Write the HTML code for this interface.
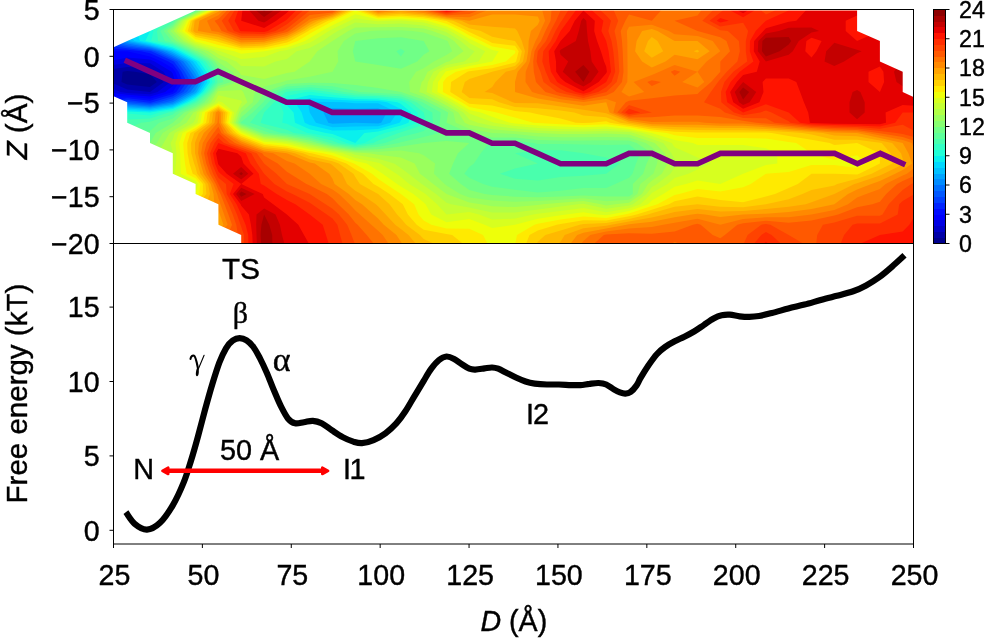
<!DOCTYPE html>
<html><head><meta charset="utf-8"><title>Free energy landscape</title>
<style>
html,body{margin:0;padding:0;background:#fff;}
body{width:986px;height:638px;overflow:hidden;font-family:"Liberation Sans",sans-serif;}
svg{display:block;will-change:transform;}
svg text{font-family:"Liberation Sans",sans-serif;fill:#000;stroke:#000;stroke-width:0.4px;}
</style></head><body>
<svg width="986" height="638" viewBox="0 0 986 638">
<rect width="986" height="638" fill="#fff"/>
<defs><clipPath id="c"><rect x="113.5" y="9.5" width="800.0" height="234.0"/></clipPath><mask id="m" maskUnits="userSpaceOnUse" x="90" y="0" width="850" height="260"><path fill="#fff" d="M195.6,10.5L218.4,10.5L241.2,10.5L264.1,10.5L286.9,10.5L309.7,10.5L332.5,10.5L355.3,10.5L378.1,10.5L400.9,10.5L423.7,10.5L446.5,10.5L469.3,10.5L492.2,10.5L515,10.5L537.8,10.5L560.6,10.5L583.4,10.5L606.2,10.5L629,10.5L651.8,10.5L674.6,10.5L697.5,10.5L720.3,10.5L743.1,10.5L765.9,10.5L788.7,10.5L811.5,10.5L834.3,10.5L857.1,10.5L857.1,20.7L857.1,30.9L879.9,41.1L879.9,51.3L879.9,61.5L902.7,71.7L902.7,81.9L902.7,92.1L925.5,102.3L925.5,112.5L925.5,122.7L925.5,132.9L925.5,143.1L925.5,153.3L925.5,163.5L925.5,173.7L925.5,183.9L925.5,194.1L925.5,204.3L925.5,214.5L925.5,224.7L925.5,234.9L925.5,245.1L902.7,245.1L879.9,245.1L857.1,245.1L834.3,245.1L811.5,245.1L788.7,245.1L765.9,245.1L743.1,245.1L720.3,245.1L697.5,245.1L674.6,245.1L651.8,245.1L629,245.1L606.2,245.1L583.4,245.1L560.6,245.1L537.8,245.1L515,245.1L492.2,245.1L469.3,245.1L446.5,245.1L423.7,245.1L400.9,245.1L378.1,245.1L355.3,245.1L332.5,245.1L309.7,245.1L286.9,245.1L264.1,245.1L241.2,245.1L241.2,234.9L218.4,224.7L218.4,214.5L218.4,204.3L195.6,194.1L195.6,183.9L172.8,173.7L172.8,163.5L172.8,153.3L150,143.1L150,132.9L127.2,122.7L127.2,112.5L127.2,102.3L104.4,92.1L104.4,81.9L104.4,71.7L104.4,61.5L104.4,51.3L127.2,41.1L150,30.9L172.8,20.7Z"/></mask></defs>
<g clip-path="url(#c)">
<g mask="url(#m)">
<rect x="90" y="0" width="850" height="260" fill="#00008d"/>
<path fill="#0000a8" d="M127.2,10.5L150,10.5L172.8,10.5L195.6,10.5L218.4,10.5L241.2,10.5L264.1,10.5L286.9,10.5L309.7,10.5L332.5,10.5L355.3,10.5L378.1,10.5L400.9,10.5L423.7,10.5L446.5,10.5L469.3,10.5L492.2,10.5L515,10.5L537.8,10.5L560.6,10.5L583.4,10.5L606.2,10.5L629,10.5L651.8,10.5L674.6,10.5L697.5,10.5L720.3,10.5L743.1,10.5L765.9,10.5L788.7,10.5L811.5,10.5L834.3,10.5L857.1,10.5L879.9,10.5L902.7,10.5L925.5,10.5L925.5,20.7L925.5,30.9L925.5,41.1L925.5,51.3L925.5,61.5L925.5,71.7L925.5,81.9L925.5,92.1L925.5,102.3L925.5,112.5L925.5,122.7L925.5,132.9L925.5,143.1L925.5,153.3L925.5,163.5L925.5,173.7L925.5,183.9L925.5,194.1L925.5,204.3L925.5,214.5L925.5,224.7L925.5,234.9L925.5,245.1L902.7,245.1L879.9,245.1L857.1,245.1L834.3,245.1L811.5,245.1L788.7,245.1L765.9,245.1L743.1,245.1L720.3,245.1L697.5,245.1L674.6,245.1L651.8,245.1L629,245.1L606.2,245.1L583.4,245.1L560.6,245.1L537.8,245.1L515,245.1L492.2,245.1L469.3,245.1L446.5,245.1L423.7,245.1L400.9,245.1L378.1,245.1L355.3,245.1L332.5,245.1L309.7,245.1L286.9,245.1L264.1,245.1L241.2,245.1L218.4,245.1L195.6,245.1L172.8,245.1L150,245.1L127.2,245.1L104.4,245.1L104.4,234.9L104.4,224.7L104.4,214.5L104.4,204.3L104.4,194.1L104.4,183.9L104.4,173.7L104.4,163.5L104.4,153.3L104.4,143.1L104.4,132.9L104.4,122.7L104.4,112.5L104.4,102.3L104.4,92.1L104.4,81.9L104.4,71.7L104.4,61.5L104.4,51.3L104.4,41.1L104.4,30.9L104.4,20.7L104.4,10.5ZM122.6,71.7L121.5,81.9L127.2,84.4L150,87L156.9,81.9L150,74.2L134.8,71.7L127.2,71Z"/>
<path fill="#0000c8" d="M127.2,10.5L150,10.5L172.8,10.5L195.6,10.5L218.4,10.5L241.2,10.5L264.1,10.5L286.9,10.5L309.7,10.5L332.5,10.5L355.3,10.5L378.1,10.5L400.9,10.5L423.7,10.5L446.5,10.5L469.3,10.5L492.2,10.5L515,10.5L537.8,10.5L560.6,10.5L583.4,10.5L606.2,10.5L629,10.5L651.8,10.5L674.6,10.5L697.5,10.5L720.3,10.5L743.1,10.5L765.9,10.5L788.7,10.5L811.5,10.5L834.3,10.5L857.1,10.5L879.9,10.5L902.7,10.5L925.5,10.5L925.5,20.7L925.5,30.9L925.5,41.1L925.5,51.3L925.5,61.5L925.5,71.7L925.5,81.9L925.5,92.1L925.5,102.3L925.5,112.5L925.5,122.7L925.5,132.9L925.5,143.1L925.5,153.3L925.5,163.5L925.5,173.7L925.5,183.9L925.5,194.1L925.5,204.3L925.5,214.5L925.5,224.7L925.5,234.9L925.5,245.1L902.7,245.1L879.9,245.1L857.1,245.1L834.3,245.1L811.5,245.1L788.7,245.1L765.9,245.1L743.1,245.1L720.3,245.1L697.5,245.1L674.6,245.1L651.8,245.1L629,245.1L606.2,245.1L583.4,245.1L560.6,245.1L537.8,245.1L515,245.1L492.2,245.1L469.3,245.1L446.5,245.1L423.7,245.1L400.9,245.1L378.1,245.1L355.3,245.1L332.5,245.1L309.7,245.1L286.9,245.1L264.1,245.1L241.2,245.1L218.4,245.1L195.6,245.1L172.8,245.1L150,245.1L127.2,245.1L104.4,245.1L104.4,234.9L104.4,224.7L104.4,214.5L104.4,204.3L104.4,194.1L104.4,183.9L104.4,173.7L104.4,163.5L104.4,153.3L104.4,143.1L104.4,132.9L104.4,122.7L104.4,112.5L104.4,102.3L104.4,92.1L104.4,81.9L104.4,75.8L110.1,81.9L127.2,89.5L150,92.1L150,92.1L150,92.1L163.7,81.9L155.4,71.7L150,68.3L127.2,66.9L104.4,70.3L104.4,61.5L104.4,51.3L104.4,41.1L104.4,30.9L104.4,20.7L104.4,10.5Z"/>
<path fill="#0000e3" d="M127.2,10.5L150,10.5L172.8,10.5L195.6,10.5L218.4,10.5L241.2,10.5L264.1,10.5L286.9,10.5L309.7,10.5L332.5,10.5L355.3,10.5L378.1,10.5L400.9,10.5L423.7,10.5L446.5,10.5L469.3,10.5L492.2,10.5L515,10.5L537.8,10.5L560.6,10.5L583.4,10.5L606.2,10.5L629,10.5L651.8,10.5L674.6,10.5L697.5,10.5L720.3,10.5L743.1,10.5L765.9,10.5L788.7,10.5L811.5,10.5L834.3,10.5L857.1,10.5L879.9,10.5L902.7,10.5L925.5,10.5L925.5,20.7L925.5,30.9L925.5,41.1L925.5,51.3L925.5,61.5L925.5,71.7L925.5,81.9L925.5,92.1L925.5,102.3L925.5,112.5L925.5,122.7L925.5,132.9L925.5,143.1L925.5,153.3L925.5,163.5L925.5,173.7L925.5,183.9L925.5,194.1L925.5,204.3L925.5,214.5L925.5,224.7L925.5,234.9L925.5,245.1L902.7,245.1L879.9,245.1L857.1,245.1L834.3,245.1L811.5,245.1L788.7,245.1L765.9,245.1L743.1,245.1L720.3,245.1L697.5,245.1L674.6,245.1L651.8,245.1L629,245.1L606.2,245.1L583.4,245.1L560.6,245.1L537.8,245.1L515,245.1L492.2,245.1L469.3,245.1L446.5,245.1L423.7,245.1L400.9,245.1L378.1,245.1L355.3,245.1L332.5,245.1L309.7,245.1L286.9,245.1L264.1,245.1L241.2,245.1L218.4,245.1L195.6,245.1L172.8,245.1L150,245.1L127.2,245.1L104.4,245.1L104.4,234.9L104.4,224.7L104.4,214.5L104.4,204.3L104.4,194.1L104.4,183.9L104.4,173.7L104.4,163.5L104.4,153.3L104.4,143.1L104.4,132.9L104.4,122.7L104.4,112.5L104.4,102.3L104.4,92.1L104.4,85L120.4,92.1L127.2,93L150,94.3L157.6,92.1L170.5,81.9L163.4,71.7L150,63.2L127.2,62.9L104.4,66.3L104.4,61.5L104.4,51.3L104.4,41.1L104.4,30.9L104.4,20.7L104.4,10.5Z"/>
<path fill="#0000ff" d="M127.2,10.5L150,10.5L172.8,10.5L195.6,10.5L218.4,10.5L241.2,10.5L264.1,10.5L286.9,10.5L309.7,10.5L332.5,10.5L355.3,10.5L378.1,10.5L400.9,10.5L423.7,10.5L446.5,10.5L469.3,10.5L492.2,10.5L515,10.5L537.8,10.5L560.6,10.5L583.4,10.5L606.2,10.5L629,10.5L651.8,10.5L674.6,10.5L697.5,10.5L720.3,10.5L743.1,10.5L765.9,10.5L788.7,10.5L811.5,10.5L834.3,10.5L857.1,10.5L879.9,10.5L902.7,10.5L925.5,10.5L925.5,20.7L925.5,30.9L925.5,41.1L925.5,51.3L925.5,61.5L925.5,71.7L925.5,81.9L925.5,92.1L925.5,102.3L925.5,112.5L925.5,122.7L925.5,132.9L925.5,143.1L925.5,153.3L925.5,163.5L925.5,173.7L925.5,183.9L925.5,194.1L925.5,204.3L925.5,214.5L925.5,224.7L925.5,234.9L925.5,245.1L902.7,245.1L879.9,245.1L857.1,245.1L834.3,245.1L811.5,245.1L788.7,245.1L765.9,245.1L743.1,245.1L720.3,245.1L697.5,245.1L674.6,245.1L651.8,245.1L629,245.1L606.2,245.1L583.4,245.1L560.6,245.1L537.8,245.1L515,245.1L492.2,245.1L469.3,245.1L446.5,245.1L423.7,245.1L400.9,245.1L378.1,245.1L355.3,245.1L332.5,245.1L309.7,245.1L286.9,245.1L264.1,245.1L241.2,245.1L218.4,245.1L195.6,245.1L172.8,245.1L150,245.1L127.2,245.1L104.4,245.1L104.4,234.9L104.4,224.7L104.4,214.5L104.4,204.3L104.4,194.1L104.4,183.9L104.4,173.7L104.4,163.5L104.4,153.3L104.4,143.1L104.4,132.9L104.4,122.7L104.4,112.5L104.4,102.3L104.4,92.1L104.4,91.1L106.7,92.1L127.2,94.7L150,96.5L165.2,92.1L172.8,86L175.4,81.9L172.8,73.7L171.5,71.7L154.6,61.5L150,59.5L127.2,57.4L109,61.5L104.4,62.2L104.4,61.5L104.4,51.3L104.4,41.1L104.4,30.9L104.4,20.7L104.4,10.5Z"/>
<path fill="#000cff" d="M127.2,10.5L150,10.5L172.8,10.5L195.6,10.5L218.4,10.5L241.2,10.5L264.1,10.5L286.9,10.5L309.7,10.5L332.5,10.5L355.3,10.5L378.1,10.5L400.9,10.5L423.7,10.5L446.5,10.5L469.3,10.5L492.2,10.5L515,10.5L537.8,10.5L560.6,10.5L583.4,10.5L606.2,10.5L629,10.5L651.8,10.5L674.6,10.5L697.5,10.5L720.3,10.5L743.1,10.5L765.9,10.5L788.7,10.5L811.5,10.5L834.3,10.5L857.1,10.5L879.9,10.5L902.7,10.5L925.5,10.5L925.5,20.7L925.5,30.9L925.5,41.1L925.5,51.3L925.5,61.5L925.5,71.7L925.5,81.9L925.5,92.1L925.5,102.3L925.5,112.5L925.5,122.7L925.5,132.9L925.5,143.1L925.5,153.3L925.5,163.5L925.5,173.7L925.5,183.9L925.5,194.1L925.5,204.3L925.5,214.5L925.5,224.7L925.5,234.9L925.5,245.1L902.7,245.1L879.9,245.1L857.1,245.1L834.3,245.1L811.5,245.1L788.7,245.1L765.9,245.1L743.1,245.1L720.3,245.1L697.5,245.1L674.6,245.1L651.8,245.1L629,245.1L606.2,245.1L583.4,245.1L560.6,245.1L537.8,245.1L515,245.1L492.2,245.1L469.3,245.1L446.5,245.1L423.7,245.1L400.9,245.1L378.1,245.1L355.3,245.1L332.5,245.1L309.7,245.1L286.9,245.1L264.1,245.1L241.2,245.1L218.4,245.1L195.6,245.1L172.8,245.1L150,245.1L127.2,245.1L104.4,245.1L104.4,234.9L104.4,224.7L104.4,214.5L104.4,204.3L104.4,194.1L104.4,183.9L104.4,173.7L104.4,163.5L104.4,153.3L104.4,143.1L104.4,132.9L104.4,122.7L104.4,112.5L104.4,102.3L104.4,96.2L127.2,96.5L150,98.7L172.8,92.1L172.8,92.1L179.2,81.9L175.4,71.7L172.8,68.3L161.4,61.5L150,56.4L127.2,51.3L127.2,51.3L104.4,51.3L104.4,41.1L104.4,30.9L104.4,20.7L104.4,10.5Z"/>
<path fill="#0024ff" d="M127.2,10.5L150,10.5L172.8,10.5L195.6,10.5L218.4,10.5L241.2,10.5L264.1,10.5L286.9,10.5L309.7,10.5L332.5,10.5L355.3,10.5L378.1,10.5L400.9,10.5L423.7,10.5L446.5,10.5L469.3,10.5L492.2,10.5L515,10.5L537.8,10.5L560.6,10.5L583.4,10.5L606.2,10.5L629,10.5L651.8,10.5L674.6,10.5L697.5,10.5L720.3,10.5L743.1,10.5L765.9,10.5L788.7,10.5L811.5,10.5L834.3,10.5L857.1,10.5L879.9,10.5L902.7,10.5L925.5,10.5L925.5,20.7L925.5,30.9L925.5,41.1L925.5,51.3L925.5,61.5L925.5,71.7L925.5,81.9L925.5,92.1L925.5,102.3L925.5,112.5L925.5,122.7L925.5,132.9L925.5,143.1L925.5,153.3L925.5,163.5L925.5,173.7L925.5,183.9L925.5,194.1L925.5,204.3L925.5,214.5L925.5,224.7L925.5,234.9L925.5,245.1L902.7,245.1L879.9,245.1L857.1,245.1L834.3,245.1L811.5,245.1L788.7,245.1L765.9,245.1L743.1,245.1L720.3,245.1L697.5,245.1L674.6,245.1L651.8,245.1L629,245.1L606.2,245.1L583.4,245.1L560.6,245.1L537.8,245.1L515,245.1L492.2,245.1L469.3,245.1L446.5,245.1L423.7,245.1L400.9,245.1L378.1,245.1L355.3,245.1L332.5,245.1L309.7,245.1L286.9,245.1L264.1,245.1L241.2,245.1L218.4,245.1L195.6,245.1L172.8,245.1L150,245.1L127.2,245.1L104.4,245.1L104.4,234.9L104.4,224.7L104.4,214.5L104.4,204.3L104.4,194.1L104.4,183.9L104.4,173.7L104.4,163.5L104.4,153.3L104.4,143.1L104.4,132.9L104.4,122.7L104.4,112.5L104.4,102.3L104.4,101.1L127.2,98.2L150,100.8L172.8,94.1L176.3,92.1L183,81.9L178.5,71.7L172.8,64.2L168.3,61.5L150,53.3L140.9,51.3L127.2,49.8L104.4,48.2L104.4,41.1L104.4,30.9L104.4,20.7L104.4,10.5Z"/>
<path fill="#0040ff" d="M127.2,10.5L150,10.5L172.8,10.5L195.6,10.5L218.4,10.5L241.2,10.5L264.1,10.5L286.9,10.5L309.7,10.5L332.5,10.5L355.3,10.5L378.1,10.5L400.9,10.5L423.7,10.5L446.5,10.5L469.3,10.5L492.2,10.5L515,10.5L537.8,10.5L560.6,10.5L583.4,10.5L606.2,10.5L629,10.5L651.8,10.5L674.6,10.5L697.5,10.5L720.3,10.5L743.1,10.5L765.9,10.5L788.7,10.5L811.5,10.5L834.3,10.5L857.1,10.5L879.9,10.5L902.7,10.5L925.5,10.5L925.5,20.7L925.5,30.9L925.5,41.1L925.5,51.3L925.5,61.5L925.5,71.7L925.5,81.9L925.5,92.1L925.5,102.3L925.5,112.5L925.5,122.7L925.5,132.9L925.5,143.1L925.5,153.3L925.5,163.5L925.5,173.7L925.5,183.9L925.5,194.1L925.5,204.3L925.5,214.5L925.5,224.7L925.5,234.9L925.5,245.1L902.7,245.1L879.9,245.1L857.1,245.1L834.3,245.1L811.5,245.1L788.7,245.1L765.9,245.1L743.1,245.1L720.3,245.1L697.5,245.1L674.6,245.1L651.8,245.1L629,245.1L606.2,245.1L583.4,245.1L560.6,245.1L537.8,245.1L515,245.1L492.2,245.1L469.3,245.1L446.5,245.1L423.7,245.1L400.9,245.1L378.1,245.1L355.3,245.1L332.5,245.1L309.7,245.1L286.9,245.1L264.1,245.1L241.2,245.1L218.4,245.1L195.6,245.1L172.8,245.1L150,245.1L127.2,245.1L104.4,245.1L104.4,234.9L104.4,224.7L104.4,214.5L104.4,204.3L104.4,194.1L104.4,183.9L104.4,173.7L104.4,163.5L104.4,153.3L104.4,143.1L104.4,132.9L104.4,122.7L104.4,112.5L104.4,103.1L112.6,102.3L127.2,100L145.4,102.3L150,102.7L152.3,102.3L172.8,96.2L179.8,92.1L186.8,81.9L181.6,71.7L173.9,61.5L172.8,60.9L151.3,51.3L150,50.9L127.2,48.2L104.4,45.2L104.4,41.1L104.4,30.9L104.4,20.7L104.4,10.5Z"/>
<path fill="#0058ff" d="M127.2,10.5L150,10.5L172.8,10.5L195.6,10.5L218.4,10.5L241.2,10.5L264.1,10.5L286.9,10.5L309.7,10.5L332.5,10.5L355.3,10.5L378.1,10.5L400.9,10.5L423.7,10.5L446.5,10.5L469.3,10.5L492.2,10.5L515,10.5L537.8,10.5L560.6,10.5L583.4,10.5L606.2,10.5L629,10.5L651.8,10.5L674.6,10.5L697.5,10.5L720.3,10.5L743.1,10.5L765.9,10.5L788.7,10.5L811.5,10.5L834.3,10.5L857.1,10.5L879.9,10.5L902.7,10.5L925.5,10.5L925.5,20.7L925.5,30.9L925.5,41.1L925.5,51.3L925.5,61.5L925.5,71.7L925.5,81.9L925.5,92.1L925.5,102.3L925.5,112.5L925.5,122.7L925.5,132.9L925.5,143.1L925.5,153.3L925.5,163.5L925.5,173.7L925.5,183.9L925.5,194.1L925.5,204.3L925.5,214.5L925.5,224.7L925.5,234.9L925.5,245.1L902.7,245.1L879.9,245.1L857.1,245.1L834.3,245.1L811.5,245.1L788.7,245.1L765.9,245.1L743.1,245.1L720.3,245.1L697.5,245.1L674.6,245.1L651.8,245.1L629,245.1L606.2,245.1L583.4,245.1L560.6,245.1L537.8,245.1L515,245.1L492.2,245.1L469.3,245.1L446.5,245.1L423.7,245.1L400.9,245.1L378.1,245.1L355.3,245.1L332.5,245.1L309.7,245.1L286.9,245.1L264.1,245.1L241.2,245.1L218.4,245.1L195.6,245.1L172.8,245.1L150,245.1L127.2,245.1L104.4,245.1L104.4,234.9L104.4,224.7L104.4,214.5L104.4,204.3L104.4,194.1L104.4,183.9L104.4,173.7L104.4,163.5L104.4,153.3L104.4,143.1L104.4,132.9L104.4,122.7L104.4,112.5L104.4,104.2L123.6,102.3L127.2,101.7L131.8,102.3L150,103.9L159.1,102.3L172.8,98.2L183.3,92.1L190.6,81.9L184.7,71.7L177.1,61.5L172.8,59.2L155.2,51.3L150,49.8L127.2,46.7L104.4,42.1L104.4,41.1L104.4,30.9L104.4,20.7L104.4,10.5Z"/>
<path fill="#0070ff" d="M127.2,10.5L150,10.5L172.8,10.5L195.6,10.5L218.4,10.5L241.2,10.5L264.1,10.5L286.9,10.5L309.7,10.5L332.5,10.5L355.3,10.5L378.1,10.5L400.9,10.5L423.7,10.5L446.5,10.5L469.3,10.5L492.2,10.5L515,10.5L537.8,10.5L560.6,10.5L583.4,10.5L606.2,10.5L629,10.5L651.8,10.5L674.6,10.5L697.5,10.5L720.3,10.5L743.1,10.5L765.9,10.5L788.7,10.5L811.5,10.5L834.3,10.5L857.1,10.5L879.9,10.5L902.7,10.5L925.5,10.5L925.5,20.7L925.5,30.9L925.5,41.1L925.5,51.3L925.5,61.5L925.5,71.7L925.5,81.9L925.5,92.1L925.5,102.3L925.5,112.5L925.5,122.7L925.5,132.9L925.5,143.1L925.5,153.3L925.5,163.5L925.5,173.7L925.5,183.9L925.5,194.1L925.5,204.3L925.5,214.5L925.5,224.7L925.5,234.9L925.5,245.1L902.7,245.1L879.9,245.1L857.1,245.1L834.3,245.1L811.5,245.1L788.7,245.1L765.9,245.1L743.1,245.1L720.3,245.1L697.5,245.1L674.6,245.1L651.8,245.1L629,245.1L606.2,245.1L583.4,245.1L560.6,245.1L537.8,245.1L515,245.1L492.2,245.1L469.3,245.1L446.5,245.1L423.7,245.1L400.9,245.1L378.1,245.1L355.3,245.1L332.5,245.1L309.7,245.1L286.9,245.1L264.1,245.1L241.2,245.1L218.4,245.1L195.6,245.1L172.8,245.1L150,245.1L127.2,245.1L104.4,245.1L104.4,234.9L104.4,224.7L104.4,214.5L104.4,204.3L104.4,194.1L104.4,183.9L104.4,173.7L104.4,163.5L104.4,153.3L104.4,143.1L104.4,132.9L104.4,122.7L104.4,112.5L104.4,105.2L127.2,103.2L150,105.2L166,102.3L172.8,100.3L186.9,92.1L194.4,81.9L187.9,71.7L180.2,61.5L172.8,57.4L159.1,51.3L150,48.7L127.2,45.2L109,41.1L104.4,38.4L104.4,30.9L104.4,20.7L104.4,10.5Z"/>
<path fill="#008cff" d="M127.2,10.5L150,10.5L172.8,10.5L195.6,10.5L218.4,10.5L241.2,10.5L264.1,10.5L286.9,10.5L309.7,10.5L332.5,10.5L355.3,10.5L378.1,10.5L400.9,10.5L423.7,10.5L446.5,10.5L469.3,10.5L492.2,10.5L515,10.5L537.8,10.5L560.6,10.5L583.4,10.5L606.2,10.5L629,10.5L651.8,10.5L674.6,10.5L697.5,10.5L720.3,10.5L743.1,10.5L765.9,10.5L788.7,10.5L811.5,10.5L834.3,10.5L857.1,10.5L879.9,10.5L902.7,10.5L925.5,10.5L925.5,20.7L925.5,30.9L925.5,41.1L925.5,51.3L925.5,61.5L925.5,71.7L925.5,81.9L925.5,92.1L925.5,102.3L925.5,112.5L925.5,122.7L925.5,132.9L925.5,143.1L925.5,153.3L925.5,163.5L925.5,173.7L925.5,183.9L925.5,194.1L925.5,204.3L925.5,214.5L925.5,224.7L925.5,234.9L925.5,245.1L902.7,245.1L879.9,245.1L857.1,245.1L834.3,245.1L811.5,245.1L788.7,245.1L765.9,245.1L743.1,245.1L720.3,245.1L697.5,245.1L674.6,245.1L651.8,245.1L629,245.1L606.2,245.1L583.4,245.1L560.6,245.1L537.8,245.1L515,245.1L492.2,245.1L469.3,245.1L446.5,245.1L423.7,245.1L400.9,245.1L378.1,245.1L355.3,245.1L332.5,245.1L309.7,245.1L286.9,245.1L264.1,245.1L241.2,245.1L218.4,245.1L195.6,245.1L172.8,245.1L150,245.1L127.2,245.1L104.4,245.1L104.4,234.9L104.4,224.7L104.4,214.5L104.4,204.3L104.4,194.1L104.4,183.9L104.4,173.7L104.4,163.5L104.4,153.3L104.4,143.1L104.4,132.9L104.4,122.7L104.4,112.5L104.4,106.3L127.2,104.6L150,106.4L172.8,102.3L172.8,102.3L190.4,92.1L195.6,85L197.3,81.9L195.6,78.8L191,71.7L183.4,61.5L172.8,55.7L163,51.3L150,47.6L127.2,43.6L115.8,41.1L104.4,34.3L104.4,30.9L104.4,20.7L104.4,10.5Z"/>
<path fill="#00a4ff" d="M127.2,10.5L150,10.5L172.8,10.5L195.6,10.5L218.4,10.5L241.2,10.5L264.1,10.5L286.9,10.5L309.7,10.5L332.5,10.5L355.3,10.5L378.1,10.5L400.9,10.5L423.7,10.5L446.5,10.5L469.3,10.5L492.2,10.5L515,10.5L537.8,10.5L560.6,10.5L583.4,10.5L606.2,10.5L629,10.5L651.8,10.5L674.6,10.5L697.5,10.5L720.3,10.5L743.1,10.5L765.9,10.5L788.7,10.5L811.5,10.5L834.3,10.5L857.1,10.5L879.9,10.5L902.7,10.5L925.5,10.5L925.5,20.7L925.5,30.9L925.5,41.1L925.5,51.3L925.5,61.5L925.5,71.7L925.5,81.9L925.5,92.1L925.5,102.3L925.5,112.5L925.5,122.7L925.5,132.9L925.5,143.1L925.5,153.3L925.5,163.5L925.5,173.7L925.5,183.9L925.5,194.1L925.5,204.3L925.5,214.5L925.5,224.7L925.5,234.9L925.5,245.1L902.7,245.1L879.9,245.1L857.1,245.1L834.3,245.1L811.5,245.1L788.7,245.1L765.9,245.1L743.1,245.1L720.3,245.1L697.5,245.1L674.6,245.1L651.8,245.1L629,245.1L606.2,245.1L583.4,245.1L560.6,245.1L537.8,245.1L515,245.1L492.2,245.1L469.3,245.1L446.5,245.1L423.7,245.1L400.9,245.1L378.1,245.1L355.3,245.1L332.5,245.1L309.7,245.1L286.9,245.1L264.1,245.1L241.2,245.1L218.4,245.1L195.6,245.1L172.8,245.1L150,245.1L127.2,245.1L104.4,245.1L104.4,234.9L104.4,224.7L104.4,214.5L104.4,204.3L104.4,194.1L104.4,183.9L104.4,173.7L104.4,163.5L104.4,153.3L104.4,143.1L104.4,132.9L104.4,122.7L104.4,112.5L104.4,107.4L127.2,105.9L150,107.6L172.8,103.7L175.9,102.3L193.9,92.1L195.6,89.7L199.9,81.9L195.6,74.1L194.1,71.7L186.6,61.5L172.8,53.9L167,51.3L150,46.5L127.2,42.1L122.6,41.1L105.9,30.9L104.4,30L104.4,20.7L104.4,10.5Z"/>
<path fill="#00c0ff" d="M127.2,10.5L150,10.5L172.8,10.5L195.6,10.5L218.4,10.5L241.2,10.5L264.1,10.5L286.9,10.5L309.7,10.5L332.5,10.5L355.3,10.5L378.1,10.5L400.9,10.5L423.7,10.5L446.5,10.5L469.3,10.5L492.2,10.5L515,10.5L537.8,10.5L560.6,10.5L583.4,10.5L606.2,10.5L629,10.5L651.8,10.5L674.6,10.5L697.5,10.5L720.3,10.5L743.1,10.5L765.9,10.5L788.7,10.5L811.5,10.5L834.3,10.5L857.1,10.5L879.9,10.5L902.7,10.5L925.5,10.5L925.5,20.7L925.5,30.9L925.5,41.1L925.5,51.3L925.5,61.5L925.5,71.7L925.5,81.9L925.5,92.1L925.5,102.3L925.5,112.5L925.5,122.7L925.5,132.9L925.5,143.1L925.5,153.3L925.5,163.5L925.5,173.7L925.5,183.9L925.5,194.1L925.5,204.3L925.5,214.5L925.5,224.7L925.5,234.9L925.5,245.1L902.7,245.1L879.9,245.1L857.1,245.1L834.3,245.1L811.5,245.1L788.7,245.1L765.9,245.1L743.1,245.1L720.3,245.1L697.5,245.1L674.6,245.1L651.8,245.1L629,245.1L606.2,245.1L583.4,245.1L560.6,245.1L537.8,245.1L515,245.1L492.2,245.1L469.3,245.1L446.5,245.1L423.7,245.1L400.9,245.1L378.1,245.1L355.3,245.1L332.5,245.1L309.7,245.1L286.9,245.1L264.1,245.1L241.2,245.1L218.4,245.1L195.6,245.1L172.8,245.1L150,245.1L127.2,245.1L104.4,245.1L104.4,234.9L104.4,224.7L104.4,214.5L104.4,204.3L104.4,194.1L104.4,183.9L104.4,173.7L104.4,163.5L104.4,153.3L104.4,143.1L104.4,132.9L104.4,122.7L104.4,112.5L104.4,108.4L127.2,107.3L150,108.8L172.8,105L178.9,102.3L195.6,92.9L196.7,92.1L202.4,81.9L197.2,71.7L195.6,69.5L189.8,61.5L172.8,52.2L170.9,51.3L150,45.4L129,41.1L127.2,39.1L115,30.9L104.4,24.9L104.4,20.7L104.4,10.5ZM323.4,112.5L328.3,122.7L332.5,123.8L355.3,122.7L355.3,122.7L355.3,122.7L378.1,123.6L381.2,122.7L386.9,112.5L378.1,108.2L355.3,108.8L332.5,108Z"/>
<path fill="#00d8ff" d="M127.2,10.5L150,10.5L172.8,10.5L195.6,10.5L218.4,10.5L241.2,10.5L264.1,10.5L286.9,10.5L309.7,10.5L332.5,10.5L355.3,10.5L378.1,10.5L400.9,10.5L423.7,10.5L446.5,10.5L469.3,10.5L492.2,10.5L515,10.5L537.8,10.5L560.6,10.5L583.4,10.5L606.2,10.5L629,10.5L651.8,10.5L674.6,10.5L697.5,10.5L720.3,10.5L743.1,10.5L765.9,10.5L788.7,10.5L811.5,10.5L834.3,10.5L857.1,10.5L879.9,10.5L902.7,10.5L925.5,10.5L925.5,20.7L925.5,30.9L925.5,41.1L925.5,51.3L925.5,61.5L925.5,71.7L925.5,81.9L925.5,92.1L925.5,102.3L925.5,112.5L925.5,122.7L925.5,132.9L925.5,143.1L925.5,153.3L925.5,163.5L925.5,173.7L925.5,183.9L925.5,194.1L925.5,204.3L925.5,214.5L925.5,224.7L925.5,234.9L925.5,245.1L902.7,245.1L879.9,245.1L857.1,245.1L834.3,245.1L811.5,245.1L788.7,245.1L765.9,245.1L743.1,245.1L720.3,245.1L697.5,245.1L674.6,245.1L651.8,245.1L629,245.1L606.2,245.1L583.4,245.1L560.6,245.1L537.8,245.1L515,245.1L492.2,245.1L469.3,245.1L446.5,245.1L423.7,245.1L400.9,245.1L378.1,245.1L355.3,245.1L332.5,245.1L309.7,245.1L286.9,245.1L264.1,245.1L241.2,245.1L218.4,245.1L195.6,245.1L172.8,245.1L150,245.1L127.2,245.1L104.4,245.1L104.4,234.9L104.4,224.7L104.4,214.5L104.4,204.3L104.4,194.1L104.4,183.9L104.4,173.7L104.4,163.5L104.4,153.3L104.4,143.1L104.4,132.9L104.4,122.7L104.4,112.5L104.4,109.5L127.2,108.6L150,110.1L172.8,106.4L181.9,102.3L195.6,94.6L198.7,92.1L204.9,81.9L200.3,71.7L195.6,65.1L193,61.5L174.4,51.3L172.8,50.5L150,44.3L134.5,41.1L127.2,32.9L124.2,30.9L106.6,20.7L104.4,19.5L104.4,10.5ZM307.6,102.3L309.7,112.5L309.7,112.5L315.9,122.7L332.5,127.2L355.3,126.5L378.1,126.2L390.3,122.7L397.4,112.5L378.1,103.2L355.3,103.2L343.9,102.3L332.5,101.9L309.7,101.7Z"/>
<path fill="#09f0ee" d="M127.2,10.5L150,10.5L172.8,10.5L195.6,10.5L218.4,10.5L241.2,10.5L264.1,10.5L286.9,10.5L309.7,10.5L332.5,10.5L355.3,10.5L378.1,10.5L400.9,10.5L423.7,10.5L446.5,10.5L469.3,10.5L492.2,10.5L515,10.5L537.8,10.5L560.6,10.5L583.4,10.5L606.2,10.5L629,10.5L651.8,10.5L674.6,10.5L697.5,10.5L720.3,10.5L743.1,10.5L765.9,10.5L788.7,10.5L811.5,10.5L834.3,10.5L857.1,10.5L879.9,10.5L902.7,10.5L925.5,10.5L925.5,20.7L925.5,30.9L925.5,41.1L925.5,51.3L925.5,61.5L925.5,71.7L925.5,81.9L925.5,92.1L925.5,102.3L925.5,112.5L925.5,122.7L925.5,132.9L925.5,143.1L925.5,153.3L925.5,163.5L925.5,173.7L925.5,183.9L925.5,194.1L925.5,204.3L925.5,214.5L925.5,224.7L925.5,234.9L925.5,245.1L902.7,245.1L879.9,245.1L857.1,245.1L834.3,245.1L811.5,245.1L788.7,245.1L765.9,245.1L743.1,245.1L720.3,245.1L697.5,245.1L674.6,245.1L651.8,245.1L629,245.1L606.2,245.1L583.4,245.1L560.6,245.1L537.8,245.1L515,245.1L492.2,245.1L469.3,245.1L446.5,245.1L423.7,245.1L400.9,245.1L378.1,245.1L355.3,245.1L332.5,245.1L309.7,245.1L286.9,245.1L264.1,245.1L241.2,245.1L218.4,245.1L195.6,245.1L172.8,245.1L150,245.1L127.2,245.1L104.4,245.1L104.4,234.9L104.4,224.7L104.4,214.5L104.4,204.3L104.4,194.1L104.4,183.9L104.4,173.7L104.4,163.5L104.4,153.3L104.4,143.1L104.4,132.9L104.4,122.7L104.4,112.5L104.4,110.5L127.2,110L150,111.3L172.8,107.7L185,102.3L195.6,96.3L200.8,92.1L207.5,81.9L203.4,71.7L196.1,61.5L195.6,61.2L177.6,51.3L172.8,49L150,43.1L140,41.1L136.3,30.9L127.2,26.2L118.1,20.7L104.4,12.9L104.4,10.5ZM295.2,102.3L301.6,112.5L304.8,122.7L309.7,124.9L332.5,130.6L355.3,130.3L378.1,128.9L399.4,122.7L400.9,120.7L405.1,112.5L400.9,109.1L386.9,102.3L378.1,101L355.3,100.8L332.5,99.6L309.7,98.3Z"/>
<path fill="#1fffd7" d="M127.2,10.5L150,10.5L172.8,10.5L195.6,10.5L218.4,10.5L241.2,10.5L264.1,10.5L286.9,10.5L309.7,10.5L332.5,10.5L355.3,10.5L378.1,10.5L400.9,10.5L423.7,10.5L446.5,10.5L469.3,10.5L492.2,10.5L515,10.5L537.8,10.5L560.6,10.5L583.4,10.5L606.2,10.5L629,10.5L651.8,10.5L674.6,10.5L697.5,10.5L720.3,10.5L743.1,10.5L765.9,10.5L788.7,10.5L811.5,10.5L834.3,10.5L857.1,10.5L879.9,10.5L902.7,10.5L925.5,10.5L925.5,20.7L925.5,30.9L925.5,41.1L925.5,51.3L925.5,61.5L925.5,71.7L925.5,81.9L925.5,92.1L925.5,102.3L925.5,112.5L925.5,122.7L925.5,132.9L925.5,143.1L925.5,153.3L925.5,163.5L925.5,173.7L925.5,183.9L925.5,194.1L925.5,204.3L925.5,214.5L925.5,224.7L925.5,234.9L925.5,245.1L902.7,245.1L879.9,245.1L857.1,245.1L834.3,245.1L811.5,245.1L788.7,245.1L765.9,245.1L743.1,245.1L720.3,245.1L697.5,245.1L674.6,245.1L651.8,245.1L629,245.1L606.2,245.1L583.4,245.1L560.6,245.1L537.8,245.1L515,245.1L492.2,245.1L469.3,245.1L446.5,245.1L423.7,245.1L400.9,245.1L378.1,245.1L355.3,245.1L332.5,245.1L309.7,245.1L286.9,245.1L264.1,245.1L241.2,245.1L218.4,245.1L195.6,245.1L172.8,245.1L150,245.1L127.2,245.1L104.4,245.1L104.4,234.9L104.4,224.7L104.4,214.5L104.4,204.3L104.4,194.1L104.4,183.9L104.4,173.7L104.4,163.5L104.4,153.3L104.4,143.1L104.4,132.9L104.4,122.7L104.4,112.5L104.4,111.6L127.2,111.4L150,112.5L150,112.5L150,112.5L172.8,109.1L188,102.3L195.6,98L202.9,92.1L210,81.9L206.5,71.7L199.3,61.5L195.6,59.5L180.8,51.3L172.8,47.5L150,42L145.4,41.1L150,30.9L150,30.9L150,30.9L130.5,20.7L127.2,18.8L113.5,10.5ZM285,102.3L286.9,105.2L293.6,112.5L295,122.7L309.7,129.3L326,132.9L332.5,134L355.3,143.1L355.3,143.1L355.3,143.1L364.4,132.9L378.1,131.6L400.9,125.5L408.5,122.7L411.3,112.5L400.9,104L397.4,102.3L378.1,99.4L355.3,99L332.5,97.2L309.7,94.9L286.9,100.7Z"/>
<path fill="#33ffc4" d="M150,10.5L172.8,10.5L195.6,10.5L218.4,10.5L241.2,10.5L264.1,10.5L286.9,10.5L309.7,10.5L332.5,10.5L355.3,10.5L378.1,10.5L400.9,10.5L423.7,10.5L446.5,10.5L469.3,10.5L492.2,10.5L515,10.5L537.8,10.5L560.6,10.5L583.4,10.5L606.2,10.5L629,10.5L651.8,10.5L674.6,10.5L697.5,10.5L720.3,10.5L743.1,10.5L765.9,10.5L788.7,10.5L811.5,10.5L834.3,10.5L857.1,10.5L879.9,10.5L902.7,10.5L925.5,10.5L925.5,20.7L925.5,30.9L925.5,41.1L925.5,51.3L925.5,61.5L925.5,71.7L925.5,81.9L925.5,92.1L925.5,102.3L925.5,112.5L925.5,122.7L925.5,132.9L925.5,143.1L925.5,153.3L925.5,163.5L925.5,173.7L925.5,183.9L925.5,194.1L925.5,204.3L925.5,214.5L925.5,224.7L925.5,234.9L925.5,245.1L902.7,245.1L879.9,245.1L857.1,245.1L834.3,245.1L811.5,245.1L788.7,245.1L765.9,245.1L743.1,245.1L720.3,245.1L697.5,245.1L674.6,245.1L651.8,245.1L629,245.1L606.2,245.1L583.4,245.1L560.6,245.1L537.8,245.1L515,245.1L492.2,245.1L469.3,245.1L446.5,245.1L423.7,245.1L400.9,245.1L378.1,245.1L355.3,245.1L332.5,245.1L309.7,245.1L286.9,245.1L264.1,245.1L241.2,245.1L218.4,245.1L195.6,245.1L172.8,245.1L150,245.1L127.2,245.1L104.4,245.1L104.4,234.9L104.4,224.7L104.4,214.5L104.4,204.3L104.4,194.1L104.4,183.9L104.4,173.7L104.4,163.5L104.4,153.3L104.4,143.1L104.4,132.9L104.4,122.7L104.4,113.5L127.2,113.5L150,115.6L159.1,112.5L172.8,110.5L191.1,102.3L195.6,99.7L205,92.1L212.5,81.9L209.6,71.7L202.4,61.5L195.6,57.7L184,51.3L172.8,45.9L151.2,41.1L153.4,30.9L150,22.7L146.1,20.7L128.4,10.5ZM305.9,92.1L286.9,96L279.6,102.3L283.6,112.5L282.3,122.7L286.9,123.7L307.4,132.9L309.7,133.2L332.5,137.4L346.7,143.1L355.3,144.5L364.4,143.1L378.1,135.4L385,132.9L400.9,128.9L417.6,122.7L417.5,112.5L404.9,102.3L400.9,100.8L378.1,97.9L355.3,97.2L332.5,94.8L312.5,92.1L309.7,91.7Z"/>
<path fill="#49ffad" d="M150,10.5L172.8,10.5L195.6,10.5L218.4,10.5L241.2,10.5L264.1,10.5L286.9,10.5L309.7,10.5L332.5,10.5L355.3,10.5L378.1,10.5L400.9,10.5L423.7,10.5L446.5,10.5L469.3,10.5L492.2,10.5L515,10.5L537.8,10.5L560.6,10.5L583.4,10.5L606.2,10.5L629,10.5L651.8,10.5L674.6,10.5L697.5,10.5L720.3,10.5L743.1,10.5L765.9,10.5L788.7,10.5L811.5,10.5L834.3,10.5L857.1,10.5L879.9,10.5L902.7,10.5L925.5,10.5L925.5,20.7L925.5,30.9L925.5,41.1L925.5,51.3L925.5,61.5L925.5,71.7L925.5,81.9L925.5,92.1L925.5,102.3L925.5,112.5L925.5,122.7L925.5,132.9L925.5,143.1L925.5,153.3L925.5,163.5L925.5,173.7L925.5,183.9L925.5,194.1L925.5,204.3L925.5,214.5L925.5,224.7L925.5,234.9L925.5,245.1L902.7,245.1L879.9,245.1L857.1,245.1L834.3,245.1L811.5,245.1L788.7,245.1L765.9,245.1L743.1,245.1L720.3,245.1L697.5,245.1L674.6,245.1L651.8,245.1L629,245.1L606.2,245.1L583.4,245.1L560.6,245.1L537.8,245.1L515,245.1L492.2,245.1L469.3,245.1L446.5,245.1L423.7,245.1L400.9,245.1L378.1,245.1L355.3,245.1L332.5,245.1L309.7,245.1L286.9,245.1L264.1,245.1L241.2,245.1L218.4,245.1L195.6,245.1L172.8,245.1L150,245.1L127.2,245.1L104.4,245.1L104.4,234.9L104.4,224.7L104.4,214.5L104.4,204.3L104.4,194.1L104.4,183.9L104.4,173.7L104.4,163.5L104.4,153.3L104.4,143.1L104.4,132.9L104.4,122.7L104.4,119.6L127.2,119.6L150,118.6L168.3,112.5L172.8,111.8L194.1,102.3L195.6,101.4L207,92.1L215.1,81.9L212.7,71.7L205.5,61.5L195.6,56L187.1,51.3L172.8,44.4L158,41.1L156.9,30.9L163.7,20.7L150,11.5L148.4,10.5ZM285.7,92.1L274.1,102.3L264.1,112.5L264.1,112.5L260.6,122.7L264.1,123.9L286.9,129.8L293.7,132.9L309.7,135.1L332.5,140.8L338.2,143.1L355.3,145.8L373.5,143.1L378.1,140.5L398.6,132.9L400.9,132.3L423.7,124.7L426,122.7L423.7,112.5L423.7,112.5L410.8,102.3L400.9,98.7L378.1,96.3L355.3,95.4L332.5,92.5L329.6,92.1L309.7,89.5L286.9,91.7Z"/>
<path fill="#5dff9a" d="M195.6,10.5L218.4,10.5L241.2,10.5L264.1,10.5L286.9,10.5L309.7,10.5L332.5,10.5L355.3,10.5L378.1,10.5L400.9,10.5L423.7,10.5L446.5,10.5L469.3,10.5L492.2,10.5L515,10.5L537.8,10.5L560.6,10.5L583.4,10.5L606.2,10.5L629,10.5L651.8,10.5L674.6,10.5L697.5,10.5L720.3,10.5L743.1,10.5L765.9,10.5L788.7,10.5L811.5,10.5L834.3,10.5L857.1,10.5L879.9,10.5L902.7,10.5L925.5,10.5L925.5,20.7L925.5,30.9L925.5,41.1L925.5,51.3L925.5,61.5L925.5,71.7L925.5,81.9L925.5,92.1L925.5,102.3L925.5,112.5L925.5,122.7L925.5,132.9L925.5,143.1L925.5,153.3L925.5,163.5L925.5,173.7L925.5,183.9L925.5,194.1L925.5,204.3L925.5,214.5L925.5,224.7L925.5,234.9L925.5,245.1L902.7,245.1L879.9,245.1L857.1,245.1L834.3,245.1L811.5,245.1L788.7,245.1L765.9,245.1L743.1,245.1L720.3,245.1L697.5,245.1L674.6,245.1L651.8,245.1L629,245.1L606.2,245.1L583.4,245.1L560.6,245.1L537.8,245.1L515,245.1L492.2,245.1L469.3,245.1L446.5,245.1L423.7,245.1L400.9,245.1L378.1,245.1L355.3,245.1L332.5,245.1L309.7,245.1L286.9,245.1L264.1,245.1L241.2,245.1L218.4,245.1L195.6,245.1L172.8,245.1L150,245.1L127.2,245.1L104.4,245.1L104.4,234.9L104.4,224.7L104.4,214.5L104.4,204.3L104.4,194.1L104.4,183.9L104.4,173.7L104.4,163.5L104.4,153.3L104.4,143.1L104.4,133.3L109,132.9L127.2,128.8L140.9,122.7L150,121.7L172.8,114.5L175.1,112.5L195.6,103.3L197.3,102.3L209.1,92.1L217.6,81.9L215.8,71.7L208.6,61.5L195.6,54.2L190.3,51.3L172.8,42.9L164.8,41.1L160.3,30.9L172.8,21.9L173.8,20.7L177.4,10.5ZM278.9,92.1L268.6,102.3L264.1,106.9L258.4,112.5L250,122.7L264.1,127.5L281.2,132.9L286.9,133.6L309.7,136.9L330.4,143.1L332.5,143.6L355.3,147.2L378.1,144.3L385,143.1L400.9,137.1L417.2,132.9L423.7,130.9L432.9,122.7L432.3,112.5L423.7,107.8L416.8,102.3L400.9,96.5L378.1,94.7L355.3,93.6L343.9,92.1L332.5,89.4L309.7,87.2L286.9,89.1ZM515,153.3L537.8,163.5L537.8,163.5L537.8,163.5L515,168.6L499.8,173.7L515,178.8L537.8,180.5L560.6,177.1L583.4,175.7L606.2,173.7L606.2,173.7L619.9,163.5L606.2,157.4L583.4,153.3L583.4,153.3L560.6,150.2L537.8,150.2Z"/>
<path fill="#70ff87" d="M195.6,11.1L197,10.5L218.4,10.5L241.2,10.5L264.1,10.5L286.9,10.5L309.7,10.5L332.5,10.5L355.3,10.5L378.1,10.5L400.9,10.5L423.7,10.5L446.5,10.5L469.3,10.5L492.2,10.5L515,10.5L537.8,10.5L560.6,10.5L583.4,10.5L606.2,10.5L629,10.5L651.8,10.5L674.6,10.5L697.5,10.5L720.3,10.5L743.1,10.5L765.9,10.5L788.7,10.5L811.5,10.5L834.3,10.5L857.1,10.5L879.9,10.5L902.7,10.5L925.5,10.5L925.5,20.7L925.5,30.9L925.5,41.1L925.5,51.3L925.5,61.5L925.5,71.7L925.5,81.9L925.5,92.1L925.5,102.3L925.5,112.5L925.5,122.7L925.5,132.9L925.5,143.1L925.5,153.3L925.5,163.5L925.5,173.7L925.5,183.9L925.5,194.1L925.5,204.3L925.5,214.5L925.5,224.7L925.5,234.9L925.5,245.1L902.7,245.1L879.9,245.1L857.1,245.1L834.3,245.1L811.5,245.1L788.7,245.1L765.9,245.1L743.1,245.1L720.3,245.1L697.5,245.1L674.6,245.1L651.8,245.1L629,245.1L606.2,245.1L583.4,245.1L560.6,245.1L537.8,245.1L515,245.1L492.2,245.1L469.3,245.1L446.5,245.1L423.7,245.1L400.9,245.1L378.1,245.1L355.3,245.1L332.5,245.1L309.7,245.1L286.9,245.1L264.1,245.1L241.2,245.1L218.4,245.1L195.6,245.1L172.8,245.1L150,245.1L127.2,245.1L104.4,245.1L104.4,234.9L104.4,224.7L104.4,214.5L104.4,204.3L104.4,194.1L104.4,183.9L104.4,173.7L104.4,163.5L104.4,153.3L104.4,143.1L104.4,138.2L127.2,137L145.4,132.9L150,130.9L159.1,122.7L172.8,118.6L179.7,112.5L195.6,105.4L200.8,102.3L211.2,92.1L218.4,83.5L223.5,81.9L219.5,71.7L218.4,71L211.7,61.5L195.6,52.5L193.5,51.3L172.8,41.4L171.7,41.1L163.7,30.9L172.8,24.4L175.7,20.7ZM396.4,51.3L400.9,56.4L404.7,51.3L400.9,48.7ZM272,92.1L264.1,101L263.2,102.3L252.7,112.5L241.2,121.9L240.9,122.7L241.2,123L264.1,131.1L269.8,132.9L286.9,135.1L309.7,138.8L324.2,143.1L332.5,144.9L355.3,148.5L378.1,146.8L398.6,143.1L400.9,142.2L423.7,137L438.9,132.9L439.7,122.7L440.8,112.5L423.7,103.1L422.7,102.3L400.9,94.3L378.1,93.1L359.9,92.1L355.3,91.1L332.5,86.2L309.7,84.9L286.9,86.6ZM488.9,143.1L480.8,153.3L473.9,163.5L469.3,166.9L464.3,173.7L469.3,177.8L483,183.9L492.2,186.8L515,189.7L537.8,192.4L560.6,190.7L583.4,188L606.2,188L615.3,183.9L629,177.8L632.5,173.7L636,163.5L640.4,153.3L629,144.6L606.2,145.1L583.4,144.6L560.6,144.1L537.8,144.1L533.2,143.1L515,140.8L492.2,142.3Z"/>
<path fill="#87ff70" d="M195.6,12L199,10.5L218.4,10.5L241.2,10.5L264.1,10.5L286.9,10.5L309.7,10.5L332.5,10.5L355.3,10.5L378.1,10.5L400.9,10.5L423.7,10.5L446.5,10.5L469.3,10.5L492.2,10.5L515,10.5L537.8,10.5L560.6,10.5L583.4,10.5L606.2,10.5L629,10.5L651.8,10.5L674.6,10.5L697.5,10.5L720.3,10.5L743.1,10.5L765.9,10.5L788.7,10.5L811.5,10.5L834.3,10.5L857.1,10.5L879.9,10.5L902.7,10.5L925.5,10.5L925.5,20.7L925.5,30.9L925.5,41.1L925.5,51.3L925.5,61.5L925.5,71.7L925.5,81.9L925.5,92.1L925.5,102.3L925.5,112.5L925.5,122.7L925.5,132.9L925.5,143.1L925.5,153.3L925.5,163.5L925.5,173.7L925.5,183.9L925.5,194.1L925.5,204.3L925.5,214.5L925.5,224.7L925.5,234.9L925.5,245.1L902.7,245.1L879.9,245.1L857.1,245.1L834.3,245.1L811.5,245.1L788.7,245.1L765.9,245.1L743.1,245.1L720.3,245.1L697.5,245.1L674.6,245.1L651.8,245.1L629,245.1L606.2,245.1L583.4,245.1L560.6,245.1L537.8,245.1L515,245.1L492.2,245.1L469.3,245.1L446.5,245.1L423.7,245.1L400.9,245.1L378.1,245.1L355.3,245.1L332.5,245.1L309.7,245.1L286.9,245.1L264.1,245.1L241.2,245.1L218.4,245.1L195.6,245.1L172.8,245.1L150,245.1L127.2,245.1L104.4,245.1L104.4,234.9L104.4,224.7L104.4,214.5L104.4,204.3L104.4,194.1L104.4,183.9L104.4,173.7L104.4,163.5L104.4,153.3L104.4,143.1L127.2,143.1L150,143.1L150,143.1L155.7,132.9L172.8,122.7L172.8,122.7L184.2,112.5L195.6,107.4L204.2,102.3L213.3,92.1L218.4,86L231.1,81.9L226,71.7L218.4,66.6L214.8,61.5L197.5,51.3L195.6,50.7L176,41.1L172.8,37.7L167.1,30.9L172.8,26.8L177.6,20.7ZM355.3,41.1L352.8,51.3L355.3,61.5L355.3,61.5L378.1,64.9L400.9,68.8L417.2,61.5L423.7,54.7L429.4,51.3L423.7,41.1L423.7,41.1L400.9,37.3L378.1,38.2ZM265.2,92.1L264.1,93.4L257.9,102.3L247,112.5L241.2,117.2L239.1,122.7L241.2,124.5L262.1,132.9L264.1,133.7L286.9,136.5L309.7,140.6L318,143.1L332.5,146.3L355.3,149.9L378.1,149.2L400.9,146.5L423.7,143.1L423.7,143.1L446.5,141.1L469.3,143.1L457.9,153.3L453.1,163.5L449.1,173.7L460.8,183.9L469.3,190L484.6,194.1L492.2,195L515,196.7L537.8,197.3L560.6,196.6L583.4,195.5L606.2,196.5L629,196.6L632.8,194.1L632.8,183.9L643.1,173.7L646.6,163.5L651.8,153.3L651.8,153.3L651.8,153.3L636.6,143.1L629,140.5L606.2,140.3L583.4,140.4L560.6,140.4L537.8,140.1L515,137.4L492.2,137.6L469.3,132.9L469.3,132.9L446.5,122.7L448.2,112.5L446.5,111.5L428.7,102.3L423.7,99.8L400.9,92.1L400.9,92.1L378.1,88L355.3,85L332.5,83L309.7,82.7L286.9,84Z"/>
<path fill="#9aff5d" d="M195.6,12.9L201,10.5L218.4,10.5L241.2,10.5L264.1,10.5L286.9,10.5L309.7,10.5L332.5,10.5L355.3,10.5L378.1,10.5L400.9,10.5L423.7,10.5L446.5,10.5L469.3,10.5L492.2,10.5L515,10.5L537.8,10.5L560.6,10.5L583.4,10.5L606.2,10.5L629,10.5L651.8,10.5L674.6,10.5L697.5,10.5L720.3,10.5L743.1,10.5L765.9,10.5L788.7,10.5L811.5,10.5L834.3,10.5L857.1,10.5L879.9,10.5L902.7,10.5L925.5,10.5L925.5,20.7L925.5,30.9L925.5,41.1L925.5,51.3L925.5,61.5L925.5,71.7L925.5,81.9L925.5,92.1L925.5,102.3L925.5,112.5L925.5,122.7L925.5,132.9L925.5,143.1L925.5,153.3L925.5,163.5L925.5,173.7L925.5,183.9L925.5,194.1L925.5,204.3L925.5,214.5L925.5,224.7L925.5,234.9L925.5,245.1L902.7,245.1L879.9,245.1L857.1,245.1L834.3,245.1L811.5,245.1L788.7,245.1L765.9,245.1L743.1,245.1L720.3,245.1L697.5,245.1L674.6,245.1L651.8,245.1L629,245.1L606.2,245.1L583.4,245.1L560.6,245.1L537.8,245.1L515,245.1L492.2,245.1L469.3,245.1L446.5,245.1L423.7,245.1L400.9,245.1L378.1,245.1L355.3,245.1L332.5,245.1L309.7,245.1L286.9,245.1L264.1,245.1L241.2,245.1L218.4,245.1L195.6,245.1L172.8,245.1L150,245.1L127.2,245.1L104.4,245.1L104.4,234.9L104.4,224.7L104.4,214.5L104.4,204.3L104.4,194.1L104.4,183.9L104.4,173.7L104.4,163.5L104.4,155.5L127.2,154.3L134.8,153.3L150,149.9L156.9,143.1L162.6,132.9L172.8,126.8L179.7,122.7L188.8,112.5L195.6,109.4L207.6,102.3L215.3,92.1L218.4,88.4L238.7,81.9L232.6,71.7L218.4,62.2L217.9,61.5L202.9,51.3L195.6,48.8L179.8,41.1L172.8,33.6L170.5,30.9L172.8,29.3L179.5,20.7ZM370.5,30.9L355.3,33.5L343.9,41.1L337.6,51.3L338.2,61.5L332.5,71.7L332.5,71.7L309.7,76.8L286.9,80.6L282.3,81.9L264.1,86.4L254.6,92.1L252.7,102.3L241.2,112.5L241.2,112.5L237.3,122.7L241.2,126.1L258.2,132.9L264.1,135.3L286.9,138L309.7,142.5L311.8,143.1L332.5,147.6L355.3,151.3L378.1,151.7L400.9,150.6L419.2,153.3L423.7,155.3L435.1,163.5L433.9,173.7L444.6,183.9L446.5,185.4L460.2,194.1L469.4,197.5L492.2,200.6L515,201.8L537.8,201.1L560.6,199.7L583.4,198.3L606.2,201.2L629,199.7L637.4,194.1L640.4,183.9L651.8,174.7L653.3,173.7L657.1,163.5L658.3,153.3L651.8,147.2L645.7,143.1L629,137.5L606.2,136.9L583.4,137.2L560.6,137.2L537.8,136.5L515,134L492.2,132.9L492.2,132.9L469.3,128.8L455.7,122.7L453.3,112.5L446.5,108.4L434.6,102.3L423.7,96.7L410,92.1L409.2,81.9L416.1,71.7L423.7,68.3L433.9,61.5L446.5,55.1L452.2,51.3L447.6,41.1L446.5,40.4L423.7,32.4L412.3,30.9L400.9,30.3L378.1,30.4Z"/>
<path fill="#b1ff46" d="M195.6,13.8L203,10.5L218.4,10.5L241.2,10.5L264.1,10.5L286.9,10.5L309.7,10.5L332.5,10.5L355.3,10.5L378.1,10.5L400.9,10.5L423.7,10.5L446.5,10.5L469.3,10.5L492.2,10.5L515,10.5L537.8,10.5L560.6,10.5L583.4,10.5L606.2,10.5L629,10.5L651.8,10.5L674.6,10.5L697.5,10.5L720.3,10.5L743.1,10.5L765.9,10.5L788.7,10.5L811.5,10.5L834.3,10.5L857.1,10.5L879.9,10.5L902.7,10.5L925.5,10.5L925.5,20.7L925.5,30.9L925.5,41.1L925.5,51.3L925.5,61.5L925.5,71.7L925.5,81.9L925.5,92.1L925.5,102.3L925.5,112.5L925.5,122.7L925.5,132.9L925.5,143.1L925.5,153.3L925.5,163.5L925.5,173.7L925.5,183.9L925.5,194.1L925.5,204.3L925.5,214.5L925.5,224.7L925.5,234.9L925.5,245.1L902.7,245.1L879.9,245.1L857.1,245.1L834.3,245.1L811.5,245.1L788.7,245.1L765.9,245.1L743.1,245.1L720.3,245.1L697.5,245.1L674.6,245.1L651.8,245.1L629,245.1L606.2,245.1L583.4,245.1L560.6,245.1L537.8,245.1L515,245.1L492.2,245.1L469.3,245.1L446.5,245.1L423.7,245.1L400.9,245.1L378.1,245.1L355.3,245.1L332.5,245.1L309.7,245.1L286.9,245.1L264.1,245.1L241.2,245.1L218.4,245.1L195.6,245.1L172.8,245.1L150,245.1L127.2,245.1L104.4,245.1L104.4,234.9L104.4,224.7L104.4,214.5L104.4,204.3L104.4,194.1L104.4,183.9L104.4,173.7L104.4,163.5L104.4,158.9L127.2,158.2L150,156.1L157.6,153.3L163.7,143.1L169.4,132.9L172.8,130.9L186.5,122.7L193.3,112.5L195.6,111.5L211,102.3L217.4,92.1L218.4,90.9L241.2,90.1L243.2,92.1L247.4,102.3L241.2,107.8L239,112.5L235.5,122.7L241.2,127.7L254.3,132.9L264.1,136.9L286.9,139.5L304.9,143.1L309.7,144.3L332.5,149L355.3,152.6L369,153.3L378.1,154.7L400.9,157.4L414.6,163.5L419.9,173.7L423.7,176.6L433.2,183.9L446.5,194.1L446.5,194.1L469.3,202.6L480.8,204.3L492.2,206.3L515,207.1L537.8,205L543.5,204.3L560.6,202.8L583.4,201.1L601.1,204.3L606.2,205.4L615.3,204.3L629,202.8L641.9,194.1L648,183.9L651.8,180.8L661.8,173.7L667.6,163.5L664.9,153.3L654.7,143.1L651.8,142.1L629,134.4L606.2,133.5L583.4,134L560.6,134L537.8,132.9L537.8,132.9L515,131.2L492.2,129.3L469.3,124.7L464.8,122.7L458.4,112.5L446.5,105.4L440.6,102.3L423.7,93.6L419.2,92.1L421.7,81.9L423.7,79.9L427.7,71.7L446.5,62L449.1,61.5L463.6,51.3L454.1,41.1L446.5,36.3L432.5,30.9L423.7,28.5L400.9,26.9L378.1,27.3L355.3,27.5L348.3,30.9L332.5,41.1L332.5,41.1L317.3,51.3L309.7,61.5L309.7,61.5L294.5,71.7L286.9,73L264.1,79L241.2,75.1L239.1,71.7L226.6,61.5L218.4,58.3L208.4,51.3L195.6,47L183.6,41.1L173.8,30.9L181.4,20.7Z"/>
<path fill="#c4ff33" d="M195.6,14.8L205,10.5L218.4,10.5L241.2,10.5L264.1,10.5L286.9,10.5L309.7,10.5L332.5,10.5L355.3,10.5L378.1,10.5L400.9,10.5L423.7,10.5L446.5,10.5L469.3,10.5L492.2,10.5L515,10.5L537.8,10.5L560.6,10.5L583.4,10.5L606.2,10.5L629,10.5L651.8,10.5L674.6,10.5L697.5,10.5L720.3,10.5L743.1,10.5L765.9,10.5L788.7,10.5L811.5,10.5L834.3,10.5L857.1,10.5L879.9,10.5L902.7,10.5L925.5,10.5L925.5,20.7L925.5,30.9L925.5,41.1L925.5,51.3L925.5,61.5L925.5,71.7L925.5,81.9L925.5,92.1L925.5,102.3L925.5,112.5L925.5,122.7L925.5,132.9L925.5,143.1L925.5,153.3L925.5,163.5L925.5,173.7L925.5,183.9L925.5,194.1L925.5,204.3L925.5,214.5L925.5,224.7L925.5,234.9L925.5,245.1L902.7,245.1L879.9,245.1L857.1,245.1L834.3,245.1L811.5,245.1L788.7,245.1L765.9,245.1L743.1,245.1L720.3,245.1L697.5,245.1L674.6,245.1L651.8,245.1L629,245.1L606.2,245.1L583.4,245.1L560.6,245.1L537.8,245.1L515,245.1L492.2,245.1L469.3,245.1L446.5,245.1L423.7,245.1L400.9,245.1L378.1,245.1L355.3,245.1L332.5,245.1L309.7,245.1L286.9,245.1L264.1,245.1L241.2,245.1L218.4,245.1L195.6,245.1L172.8,245.1L150,245.1L127.2,245.1L104.4,245.1L104.4,234.9L104.4,224.7L104.4,214.5L104.4,204.3L104.4,194.1L104.4,183.9L104.4,173.7L104.4,163.5L104.4,162.4L127.2,162.2L150,161.6L172.8,153.3L170.5,143.1L172.8,139L174.8,132.9L193.3,122.7L195.6,118.6L197,112.5L214.4,102.3L218.4,95.2L241.2,100.6L242.1,102.3L241.2,103.1L236.7,112.5L233.6,122.7L241.2,129.2L250.4,132.9L264.1,138.5L286.9,140.9L297.7,143.1L309.7,146L332.5,150.4L351,153.3L355.3,154.8L378.1,158.7L394.1,163.5L400.9,167.9L408.5,173.7L421.7,183.9L423.7,185.2L436,194.1L446.5,202.8L451.1,204.3L469.3,207.4L492.2,212.5L515,212.6L537.8,209.4L560.6,206.5L577.7,204.3L583.4,203.8L585.9,204.3L606.2,208.8L629,205.6L632.8,204.3L646.5,194.1L651.8,187L657.1,183.9L670.4,173.7L674.6,167.6L683.8,163.5L674.6,159.4L671.4,153.3L663.2,143.1L651.8,139L633.6,132.9L629,132.1L606.2,131L583.4,131.5L560.6,131.3L537.8,130.5L515,128.6L492.2,125.7L477.9,122.7L469.3,119.6L463.4,112.5L446.5,102.3L446.5,102.3L426.5,92.1L428,81.9L433.6,71.7L446.5,65.1L464.3,61.5L469.3,57.4L474.6,51.3L469.4,48.5L460.7,41.1L446.5,32.3L443,30.9L423.7,25.6L400.9,23.5L378.1,24.3L355.3,22.4L337.8,30.9L332.5,34.3L322.7,41.1L309.7,47.9L296.6,51.3L286.9,59L275.5,61.5L264.1,66.6L241.2,65.9L236.4,61.5L218.4,54.5L213.9,51.3L195.6,45.1L187.4,41.1L176.5,30.9L183.3,20.7Z"/>
<path fill="#d7ff1f" d="M195.6,15.7L207,10.5L218.4,10.5L241.2,10.5L264.1,10.5L286.9,10.5L309.7,10.5L332.5,10.5L355.3,10.5L378.1,10.5L400.9,10.5L423.7,10.5L446.5,10.5L469.3,10.5L492.2,10.5L515,10.5L537.8,10.5L560.6,10.5L583.4,10.5L606.2,10.5L629,10.5L651.8,10.5L674.6,10.5L697.5,10.5L720.3,10.5L743.1,10.5L765.9,10.5L788.7,10.5L811.5,10.5L834.3,10.5L857.1,10.5L879.9,10.5L902.7,10.5L925.5,10.5L925.5,20.7L925.5,30.9L925.5,41.1L925.5,51.3L925.5,61.5L925.5,71.7L925.5,81.9L925.5,92.1L925.5,102.3L925.5,112.5L925.5,122.7L925.5,132.9L925.5,143.1L925.5,153.3L925.5,163.5L925.5,173.7L925.5,183.9L925.5,194.1L925.5,204.3L925.5,214.5L925.5,224.7L925.5,234.9L925.5,245.1L902.7,245.1L879.9,245.1L857.1,245.1L834.3,245.1L811.5,245.1L788.7,245.1L765.9,245.1L743.1,245.1L720.3,245.1L697.5,245.1L674.6,245.1L651.8,245.1L629,245.1L606.2,245.1L583.4,245.1L560.6,245.1L537.8,245.1L515,245.1L492.2,245.1L469.3,245.1L446.5,245.1L423.7,245.1L400.9,245.1L378.1,245.1L355.3,245.1L332.5,245.1L309.7,245.1L286.9,245.1L264.1,245.1L241.2,245.1L218.4,245.1L195.6,245.1L172.8,245.1L150,245.1L127.2,245.1L104.4,245.1L104.4,234.9L104.4,224.7L104.4,214.5L104.4,204.3L104.4,194.1L104.4,186.3L127.2,186.1L150,185.7L172.8,184.7L180.4,183.9L174.8,173.7L175.9,163.5L176.5,153.3L175.4,143.1L178.7,132.9L195.6,124.1L197.5,122.7L199.7,112.5L217.9,102.3L218.4,101.3L222.2,102.3L234.4,112.5L231.8,122.7L241.2,130.8L246.5,132.9L264.1,140.1L286.9,142.4L290.5,143.1L309.7,147.8L332.5,151.7L342.5,153.3L355.3,157.9L378.1,162.8L380.4,163.5L396.4,173.7L400.9,177.1L409.2,183.9L423.7,192.8L425.5,194.1L437,204.3L446.5,214.5L469.3,212.1L479.1,214.5L492.2,219.6L515,218.6L533.2,214.5L537.8,213.8L560.6,210.9L583.4,207.9L606.2,212.2L629,208.3L640.4,204.3L651.1,194.1L651.8,193.1L667.6,183.9L674.6,178.1L688.3,173.7L697.5,169.6L711.1,163.5L697.5,157.4L688.3,153.3L674.6,147.2L671.8,143.1L651.8,136L642.7,132.9L629,130.5L606.2,128.7L583.4,129.4L560.6,129L537.8,128L515,126.1L494.7,122.7L492.2,121.9L469.3,113.5L468.5,112.5L451.6,102.3L446.5,99.5L431.9,92.1L433,81.9L439.6,71.7L446.5,68.1L469.3,63.3L478.5,61.5L485.1,51.3L469.3,43L467.2,41.1L450.3,30.9L446.5,29.1L423.7,22.6L405.5,20.7L400.9,20.4L389.5,20.7L378.1,21.2L373.5,20.7L355.3,18.2L349.9,20.7L332.5,29L328.9,30.9L312.9,41.1L309.7,42.8L286.9,50L279.3,51.3L264.1,56.9L241.2,59L220.7,51.3L218.4,50.8L195.6,43.3L191.2,41.1L179.3,30.9L185.2,20.7Z"/>
<path fill="#eeff09" d="M195.6,16.6L209,10.5L218.4,10.5L241.2,10.5L264.1,10.5L286.9,10.5L309.7,10.5L332.5,10.5L355.3,10.5L378.1,10.5L400.9,10.5L423.7,10.5L446.5,10.5L469.3,10.5L492.2,10.5L515,10.5L537.8,10.5L560.6,10.5L583.4,10.5L606.2,10.5L629,10.5L651.8,10.5L674.6,10.5L697.5,10.5L720.3,10.5L743.1,10.5L765.9,10.5L788.7,10.5L811.5,10.5L834.3,10.5L857.1,10.5L879.9,10.5L902.7,10.5L925.5,10.5L925.5,20.7L925.5,30.9L925.5,41.1L925.5,51.3L925.5,61.5L925.5,71.7L925.5,81.9L925.5,92.1L925.5,102.3L925.5,112.5L925.5,122.7L925.5,132.9L925.5,143.1L925.5,153.3L925.5,163.5L925.5,173.7L925.5,183.9L925.5,194.1L925.5,204.3L925.5,214.5L925.5,224.7L925.5,234.9L925.5,245.1L902.7,245.1L879.9,245.1L857.1,245.1L834.3,245.1L811.5,245.1L788.7,245.1L765.9,245.1L743.1,245.1L720.3,245.1L697.5,245.1L674.6,245.1L651.8,245.1L629,245.1L606.2,245.1L583.4,245.1L560.6,245.1L537.8,245.1L515,245.1L492.2,245.1L469.3,245.1L446.5,245.1L423.7,245.1L400.9,245.1L378.1,245.1L355.3,245.1L332.5,245.1L309.7,245.1L286.9,245.1L264.1,245.1L241.2,245.1L218.4,245.1L195.6,245.1L172.8,245.1L150,245.1L127.2,245.1L104.4,245.1L104.4,234.9L104.4,224.7L104.4,214.5L104.4,204.3L104.4,194.1L127.2,194.1L150,194.1L172.8,194.1L195.6,194.1L195.6,194.1L197.8,183.9L195.6,181.3L180.8,173.7L180.4,163.5L180.2,153.3L179.3,143.1L182.6,132.9L195.6,126.1L200.4,122.7L202.3,112.5L218.4,103.5L232.1,112.5L230,122.7L241.2,132.4L242.6,132.9L264.1,141.8L278.3,143.1L286.9,144L309.7,149.5L332.5,153.1L333.9,153.3L355.3,160.9L366.7,163.5L378.1,170.8L382.7,173.7L397.1,183.9L400.9,186.4L413.4,194.1L423.7,202.6L425.6,204.3L431.3,214.5L446.5,222.2L469.3,218.9L484.6,224.7L492.2,228.1L515,224.7L515,224.7L537.8,218.8L560.6,215.2L566.3,214.5L583.4,212.3L597.1,214.5L606.2,215.3L610.8,214.5L629,211L648,204.3L651.8,200.5L663.2,194.1L674.6,186.8L686,183.9L697.5,180.5L720.3,183.9L720.3,183.9L720.3,183.9L743.1,173.7L743.1,173.7L765.9,165L777.3,163.5L777.3,153.3L765.9,148.2L743.1,145.1L720.3,145.1L697.5,145.1L692.9,143.1L674.6,140L651.8,132.9L651.8,132.9L629,128.9L606.2,126.5L583.4,127.3L560.6,126.6L537.8,125.6L515,123.5L509.9,122.7L492.2,116.8L480.8,112.5L469.3,110L456.7,102.3L446.5,96.7L437.4,92.1L438.1,81.9L445.5,71.7L446.5,71.2L469.3,65.9L492.2,61.5L492.2,61.5L498.7,51.3L492.2,50.1L474.2,41.1L469.3,38.8L456,30.9L446.5,26.5L426.8,20.7L423.7,20.2L400.9,18.8L378.1,19.6L355.3,14.3L341.9,20.7L332.5,25.2L321.7,30.9L309.7,38.2L304.9,41.1L286.9,47.5L264.1,51.3L264.1,51.3L241.2,53.8L234.4,51.3L218.4,47.9L195.6,41.4L195,41.1L182.1,30.9L187.1,20.7Z"/>
<path fill="#ffea00" d="M195.6,17.5L211.1,10.5L218.4,10.5L241.2,10.5L264.1,10.5L286.9,10.5L309.7,10.5L332.5,10.5L355.3,10.5L333.8,20.7L332.5,21.3L314.5,30.9L309.7,33.8L297.7,41.1L286.9,44.9L264.1,49.4L241.2,50.3L218.4,45L204.4,41.1L195.6,39.3L184.9,30.9L189,20.7ZM378.1,10.5L400.9,10.5L423.7,10.5L446.5,10.5L469.3,10.5L492.2,10.5L515,10.5L537.8,10.5L560.6,10.5L583.4,10.5L606.2,10.5L629,10.5L651.8,10.5L674.6,10.5L697.5,10.5L720.3,10.5L743.1,10.5L765.9,10.5L788.7,10.5L811.5,10.5L834.3,10.5L857.1,10.5L879.9,10.5L902.7,10.5L925.5,10.5L925.5,20.7L925.5,30.9L925.5,41.1L925.5,51.3L925.5,61.5L925.5,71.7L925.5,81.9L925.5,92.1L925.5,102.3L925.5,112.5L925.5,122.7L925.5,132.9L925.5,143.1L925.5,153.3L925.5,163.5L925.5,173.7L925.5,183.9L925.5,194.1L925.5,204.3L925.5,214.5L925.5,224.7L925.5,234.9L925.5,245.1L902.7,245.1L879.9,245.1L857.1,245.1L834.3,245.1L811.5,245.1L788.7,245.1L765.9,245.1L743.1,245.1L720.3,245.1L697.5,245.1L674.6,245.1L651.8,245.1L629,245.1L606.2,245.1L583.4,245.1L560.6,245.1L537.8,245.1L515,245.1L517,234.9L534.5,224.7L537.8,223.8L560.6,219.6L583.4,216.4L606.2,217.9L624.5,214.5L629,213.6L651.8,206.1L657.5,204.3L674.6,195.1L679.2,194.1L697.5,189L720.3,191.5L743.1,187.3L750.7,183.9L765.9,173.7L765.9,173.7L788.7,172L811.5,165L834.3,165L857.1,168L866.2,163.5L857.1,155.3L834.3,160.1L811.5,153.3L811.5,153.3L796.3,143.1L788.7,142.1L765.9,138.6L743.1,138L720.3,138L697.5,138L674.6,135.3L667,132.9L651.8,131.2L629,127.3L606.2,124.2L583.4,125.2L560.6,124.3L537.8,123.1L533.2,122.7L515,117.6L496.7,112.5L492.2,111.5L469.3,106.9L461.7,102.3L446.5,94L442.9,92.1L443.2,81.9L446.5,77.4L456,71.7L469.3,68.6L492.2,64.9L505.8,61.5L515,53.3L515.5,51.3L515,50.5L492.2,46.5L481.4,41.1L469.3,35.4L461.7,30.9L446.5,23.8L435.9,20.7L423.7,18.8L400.9,17.1L378.1,18.2L355.3,10.5ZM218.4,105L229.8,112.5L228.2,122.7L239.3,132.9L241.2,134.1L263.3,143.1L264.1,143.4L286.9,145.9L309.7,151.3L323,153.3L332.5,155.6L354,163.5L355.3,164.3L372,173.7L378.1,178.8L385.7,183.9L400.9,194.1L400.9,194.1L414.2,204.3L418.5,214.5L423.7,220.6L431.3,224.7L446.5,228.4L469.3,228.8L483,234.9L488.4,245.1L469.3,245.1L446.5,245.1L423.7,245.1L400.9,245.1L378.1,245.1L355.3,245.1L332.5,245.1L309.7,245.1L286.9,245.1L264.1,245.1L241.2,245.1L218.4,245.1L195.6,245.1L172.8,245.1L150,245.1L127.2,245.1L104.4,245.1L104.4,234.9L104.4,224.7L104.4,214.5L104.4,206.2L127.2,205.8L150,205.1L160.4,204.3L172.8,201.5L195.6,197.8L199.2,194.1L200.4,183.9L195.6,178.3L186.7,173.7L185,163.5L183.9,153.3L183.2,143.1L186.5,132.9L195.6,128.1L203.2,122.7L205,112.5Z"/>
<path fill="#ffd000" d="M195.6,18.4L213.1,10.5L218.4,10.5L241.2,10.5L264.1,10.5L286.9,10.5L309.7,10.5L332.5,10.5L352.2,10.5L332.5,19.5L328.3,20.7L309.7,30.1L308.4,30.9L290.5,41.1L286.9,42.4L264.1,47.5L241.2,48.3L218.4,42.1L214.9,41.1L195.6,37.1L187.7,30.9L190.9,20.7ZM378.1,10.5L400.9,10.5L423.7,10.5L446.5,10.5L469.3,10.5L492.2,10.5L515,10.5L537.8,10.5L560.6,10.5L583.4,10.5L606.2,10.5L629,10.5L651.8,10.5L674.6,10.5L697.5,10.5L720.3,10.5L743.1,10.5L765.9,10.5L788.7,10.5L811.5,10.5L834.3,10.5L857.1,10.5L879.9,10.5L902.7,10.5L925.5,10.5L925.5,20.7L925.5,30.9L925.5,41.1L925.5,51.3L925.5,61.5L925.5,71.7L925.5,81.9L925.5,92.1L925.5,102.3L925.5,112.5L925.5,122.7L925.5,132.9L925.5,143.1L925.5,153.3L925.5,163.5L925.5,173.7L925.5,183.9L925.5,194.1L925.5,204.3L925.5,214.5L925.5,224.7L925.5,234.9L925.5,245.1L902.7,245.1L879.9,245.1L857.1,245.1L834.3,245.1L811.5,245.1L788.7,245.1L765.9,245.1L743.1,245.1L720.3,245.1L697.5,245.1L674.6,245.1L651.8,245.1L629,245.1L606.2,245.1L583.4,245.1L560.6,245.1L537.8,245.1L525.5,245.1L529.5,234.9L537.8,230.4L556.8,224.7L560.6,224L583.4,220.2L606.2,220.4L629,216.3L636.6,214.5L651.8,209.7L668.9,204.3L674.6,201.2L697.5,196.6L720.3,199.9L743.1,202.3L765.9,196.6L775,194.1L788.7,188L797.8,183.9L811.5,173.7L834.3,173.7L857.1,174.4L859.2,173.7L879.9,163.5L879.9,163.5L879.9,153.3L879.9,153.3L857.1,143.1L857.1,143.1L857.1,143.1L834.3,145.1L829.7,143.1L811.5,139.7L788.7,136L771.6,132.9L765.9,132.6L743.1,132.5L720.3,132.5L697.5,132.5L674.6,131.7L651.8,129.4L629,125.7L609.7,122.7L606.2,121.3L591,122.7L583.4,123.1L575.8,122.7L560.6,118.6L537.8,114.2L530.2,112.5L515,111.1L492.2,105.4L469.3,103.8L466.8,102.3L450.3,92.1L451.1,81.9L467.4,71.7L469.3,71.3L492.2,68.3L515,62.6L516.1,61.5L518.7,51.3L515,45.8L492.2,42.9L488.6,41.1L469.3,32L467.4,30.9L446.5,21.1L445,20.7L423.7,17.3L400.9,15.5L378.1,16.8L359.3,10.5ZM218.4,106.5L227.6,112.5L226.3,122.7L236.3,132.9L241.2,136L258.7,143.1L264.1,145.1L286.9,147.7L309.7,153L311.6,153.3L332.5,158.4L346.4,163.5L355.3,169.4L362.9,173.7L373.5,183.9L378.1,186.4L389.5,194.1L400.9,202.8L402.8,204.3L407.9,214.5L416.7,224.7L423.7,229.8L446.5,234L452.2,234.9L464.8,245.1L446.5,245.1L423.7,245.1L400.9,245.1L378.1,245.1L355.3,245.1L332.5,245.1L309.7,245.1L286.9,245.1L264.1,245.1L241.2,245.1L218.4,245.1L195.6,245.1L172.8,245.1L150,245.1L127.2,245.1L104.4,245.1L104.4,234.9L104.4,224.7L104.4,214.5L104.4,208.4L127.2,208.2L150,207.7L172.8,206.2L183.2,204.3L195.6,201.5L202.8,194.1L202.9,183.9L195.6,175.2L192.7,173.7L189.5,163.5L187.6,153.3L187.2,143.1L190.4,132.9L195.6,130.2L206.1,122.7L207.7,112.5Z"/>
<path fill="#ffb900" d="M195.6,19.3L215.1,10.5L218.4,10.5L241.2,10.5L264.1,10.5L286.9,10.5L309.7,10.5L332.5,10.5L349.1,10.5L332.5,18.1L323.2,20.7L309.7,27.5L304.5,30.9L286.9,40.1L282.8,41.1L264.1,45.6L241.2,46.4L223,41.1L218.4,39.5L195.6,34.9L190.5,30.9L192.8,20.7ZM378.1,10.5L400.9,10.5L423.7,10.5L446.5,10.5L469.3,10.5L492.2,10.5L515,10.5L537.8,10.5L560.6,10.5L583.4,10.5L606.2,10.5L629,10.5L651.8,10.5L674.6,10.5L697.5,10.5L720.3,10.5L743.1,10.5L765.9,10.5L788.7,10.5L811.5,10.5L834.3,10.5L857.1,10.5L879.9,10.5L902.7,10.5L925.5,10.5L925.5,20.7L925.5,30.9L925.5,41.1L925.5,51.3L925.5,61.5L925.5,71.7L925.5,81.9L925.5,92.1L925.5,102.3L925.5,112.5L925.5,122.7L925.5,132.9L925.5,143.1L925.5,153.3L925.5,163.5L925.5,173.7L925.5,183.9L925.5,194.1L925.5,204.3L925.5,214.5L925.5,224.7L925.5,234.9L925.5,245.1L902.7,245.1L879.9,245.1L857.1,245.1L834.3,245.1L811.5,245.1L788.7,245.1L765.9,245.1L743.1,245.1L720.3,245.1L697.5,245.1L674.6,245.1L651.8,245.1L629,245.1L606.2,245.1L583.4,245.1L560.6,245.1L537.8,245.1L536,245.1L537.8,241.7L545.4,234.9L560.6,230.4L579.6,224.7L583.4,224.1L606.2,223L629,218.9L648,214.5L651.8,213.3L674.6,206.8L697.5,204.3L720.3,206.7L743.1,207.3L765.9,204.3L765.9,204.3L788.7,199.2L802.4,194.1L811.5,190L834.3,185.4L837.2,183.9L857.1,178.8L871.6,173.7L879.9,169.6L892.4,163.5L890.5,153.3L881.7,143.1L879.9,142.7L857.1,139.7L834.3,139.7L811.5,134.6L802.4,132.9L788.7,132.1L765.9,130.8L743.1,130.3L720.3,130.3L697.5,129.9L674.6,129.4L651.8,127.7L629,124L620.2,122.7L606.2,117.3L583.4,115.4L574.3,112.5L560.6,110.5L537.8,108.2L515,107.1L499,102.3L492.2,99.2L469.4,97.9L461.7,92.1L464.8,81.9L469.4,79L492.2,71.7L492.2,71.7L515,66L519.5,61.5L521.9,51.3L515,41.1L515,41.1L492.2,36.7L480.8,30.9L469.4,28.3L453.2,20.7L446.5,19.8L423.7,15.8L400.9,13.8L378.1,15.5L363.4,10.5ZM218.4,108L225.3,112.5L224.5,122.7L233.3,132.9L241.2,137.8L254.2,143.1L264.1,146.9L286.9,149.6L303,153.3L309.7,156L332.5,161.2L338.8,163.5L353.4,173.7L355.3,177.1L359.9,183.9L378.1,194.1L378.1,194.1L389.5,204.3L397.1,214.5L400.9,218.6L406.2,224.7L419.9,234.9L423.7,239L437.4,245.1L423.7,245.1L400.9,245.1L378.1,245.1L355.3,245.1L332.5,245.1L309.7,245.1L286.9,245.1L264.1,245.1L241.2,245.1L218.4,245.1L195.6,245.1L172.8,245.1L150,245.1L127.2,245.1L104.4,245.1L104.4,234.9L104.4,224.7L104.4,214.5L104.4,210.7L127.2,210.6L150,210.2L172.8,209.3L195.6,205.6L197.7,204.3L206.4,194.1L205.5,183.9L197.2,173.7L195.6,167.6L194.1,163.5L191.3,153.3L191.1,143.1L194.3,132.9L195.6,132.2L208.9,122.7L210.4,112.5Z"/>
<path fill="#ffa300" d="M195.6,20.2L217.1,10.5L218.4,10.5L241.2,10.5L264.1,10.5L286.9,10.5L309.7,10.5L332.5,10.5L346,10.5L332.5,16.7L318.1,20.7L309.7,25L300.6,30.9L286.9,38L274.8,41.1L264.1,43.6L241.2,44.4L229.8,41.1L218.4,37L195.6,32.7L193.3,30.9L194.7,20.7ZM378.1,10.5L400.9,10.5L423.7,10.5L446.5,10.5L469.3,10.5L492.2,10.5L515,10.5L537.8,10.5L560.6,10.5L583.4,10.5L606.2,10.5L629,10.5L651.8,10.5L674.6,10.5L697.5,10.5L720.3,10.5L743.1,10.5L765.9,10.5L788.7,10.5L811.5,10.5L834.3,10.5L857.1,10.5L879.9,10.5L902.7,10.5L925.5,10.5L925.5,20.7L925.5,30.9L925.5,41.1L925.5,51.3L925.5,61.5L925.5,71.7L925.5,81.9L925.5,92.1L925.5,102.3L925.5,112.5L925.5,122.7L925.5,132.9L925.5,143.1L925.5,153.3L925.5,163.5L925.5,173.7L925.5,183.9L925.5,194.1L925.5,204.3L925.5,214.5L925.5,224.7L925.5,234.9L925.5,245.1L902.7,245.1L879.9,245.1L857.1,245.1L834.3,245.1L811.5,245.1L788.7,245.1L765.9,245.1L743.1,245.1L720.3,245.1L697.5,245.1L674.6,245.1L651.8,245.1L629,245.1L606.2,245.1L583.4,245.1L560.6,245.1L556.8,245.1L560.6,241.7L564.7,234.9L583.4,228.3L606.2,225.7L611.3,224.7L629,221.6L651.8,217.4L664.9,214.5L674.6,211.9L697.5,209L720.3,211.4L743.1,210.9L765.9,209L788.7,206.8L805.8,204.3L811.5,202.3L834.3,194.1L834.3,194.1L854.3,183.9L857.1,183.2L879.9,175.6L883.7,173.7L902.7,164.4L904.1,163.5L902.7,158.4L901,153.3L892.2,143.1L879.9,140.4L857.1,136.3L834.3,135.6L822.9,132.9L811.5,132L788.7,130.5L765.9,129L743.1,128L720.3,128L697.5,127.4L674.6,127L651.8,125.9L630.9,122.7L629,122.4L606.2,113.2L601.6,112.5L583.4,109.8L560.6,106.4L537.8,103.2L515,103L512.7,102.3L492.2,93.1L484.6,92.1L492.2,87L495.4,81.9L505.8,71.7L515,69.4L523,61.5L525,51.3L521.8,41.1L517.3,30.9L515,28.4L492.2,26.8L469.3,24.5L461.3,20.7L446.5,18.7L423.7,14.4L400.9,12.2L378.1,14.1L367.4,10.5ZM648,41.1L644.2,51.3L651.8,57.7L663.2,51.3L657.5,41.1L651.8,37ZM693.6,51.3L697.5,52.4L699.2,51.3L697.5,49.8ZM218.4,109.5L223,112.5L222.7,122.7L230.3,132.9L241.2,139.7L249.6,143.1L264.1,148.6L286.9,151.4L294.9,153.3L309.7,159.2L330,163.5L332.5,165.2L342,173.7L347,183.9L355.3,190.7L361,194.1L375.8,204.3L378.1,206.3L385.7,214.5L395.2,224.7L400.9,229.1L408.5,234.9L416.9,245.1L400.9,245.1L378.1,245.1L355.3,245.1L332.5,245.1L309.7,245.1L286.9,245.1L264.1,245.1L241.2,245.1L218.4,245.1L195.6,245.1L172.8,245.1L150,245.1L127.2,245.1L104.4,245.1L104.4,235.1L127.2,235L131.4,234.9L150,230.7L172.8,227.7L195.6,226.2L218.4,225.5L219.2,224.7L218.4,222.7L195.6,222.7L172.8,222.7L150,222.7L127.2,222.7L104.4,222.7L104.4,214.5L104.4,213L127.2,212.9L150,212.8L172.8,212.4L195.6,211L206,204.3L210,194.1L208.1,183.9L200.4,173.7L197.6,163.5L195.6,155.3L195,153.3L195,143.1L195.6,141.1L198.9,132.9L211.8,122.7L213.1,112.5Z"/>
<path fill="#ff8900" d="M218.4,11.7L219.7,10.5L241.2,10.5L264.1,10.5L286.9,10.5L309.7,10.5L332.5,10.5L342.9,10.5L332.5,15.2L313.1,20.7L309.7,22.4L296.6,30.9L286.9,36L266.7,41.1L264.1,41.7L241.2,42.4L236.7,41.1L218.4,34.6L197.9,30.9L199.4,20.7ZM378.1,10.5L400.9,10.5L378.1,12.8L371.4,10.5ZM423.7,10.5L446.5,10.5L469.3,10.5L492.2,10.5L515,10.5L537.8,10.5L560.6,10.5L583.4,10.5L606.2,10.5L629,10.5L651.8,10.5L674.6,10.5L697.5,10.5L720.3,10.5L743.1,10.5L765.9,10.5L788.7,10.5L811.5,10.5L834.3,10.5L857.1,10.5L879.9,10.5L902.7,10.5L925.5,10.5L925.5,20.7L925.5,30.9L925.5,41.1L925.5,51.3L925.5,61.5L925.5,71.7L925.5,81.9L925.5,92.1L925.5,102.3L925.5,112.5L925.5,122.7L925.5,132.9L925.5,143.1L925.5,153.3L925.5,163.5L925.5,173.7L925.5,183.9L925.5,194.1L925.5,204.3L925.5,214.5L925.5,224.7L925.5,234.9L925.5,245.1L902.7,245.1L879.9,245.1L857.1,245.1L834.3,245.1L811.5,245.1L788.7,245.1L765.9,245.1L743.1,245.1L720.3,245.1L697.5,245.1L674.6,245.1L651.8,245.1L629,245.1L606.2,245.1L583.4,245.1L569.4,245.1L577.2,234.9L583.4,232.7L606.2,228.6L626.5,224.7L629,224.3L651.8,221.8L674.6,217.3L691.7,214.5L697.5,213.7L705.1,214.5L720.3,217L743.1,214.5L743.1,214.5L765.9,213.7L788.7,211.9L811.5,208.9L834.3,204.3L834.3,204.3L848,194.1L857.1,189.6L871.4,183.9L879.9,181.1L895.1,173.7L902.7,170L912.1,163.5L908.4,153.3L902.7,143.1L902.7,143.1L879.9,138L857.1,132.9L857.1,132.9L834.3,132.4L811.5,130.7L788.7,128.9L765.9,127.2L743.1,125.7L720.3,125.7L697.5,124.8L674.6,124.7L651.8,124.2L642.3,122.7L629,120.8L609.5,112.5L606.2,102.3L606.2,102.3L606.2,102.3L583.4,105.7L560.6,102.3L560.6,102.3L537.8,98.4L515,92.1L515,81.9L517.7,71.7L526.4,61.5L528.2,51.3L528.7,41.1L530.9,30.9L537.8,24.8L539.6,20.7L537.8,16.6L515,14.6L492.2,14.6L469.3,20.7L446.5,17.5L423.7,12.9L400.9,10.5ZM642.1,30.9L636.6,41.1L635.1,51.3L642.1,61.5L651.8,67.6L665.5,61.5L674.6,54.7L697.5,59.2L709.7,51.3L697.5,41.1L697.5,41.1L674.6,41.1L657.5,30.9L651.8,28.9ZM697.5,81.9L697.5,81.9L697.5,81.9ZM629,92.1L629,92.1L629,92.1ZM218.4,111L220.7,112.5L220.9,122.7L227.4,132.9L241.2,141.6L245.1,143.1L264.1,150.4L286.9,153.3L286.9,153.3L309.7,162.4L314.7,163.5L329.2,173.7L332.5,178.8L334.6,183.9L348.8,194.1L355.3,199.9L362.1,204.3L373.5,214.5L378.1,218.6L383.8,224.7L396.4,234.9L400.9,241.7L403.2,245.1L400.9,245.1L378.1,245.1L355.3,245.1L332.5,245.1L309.7,245.1L286.9,245.1L264.1,245.1L241.2,245.1L218.4,245.1L195.6,245.1L172.8,245.1L150,245.1L127.2,245.1L104.4,245.1L104.4,237.4L127.2,237.3L150,237L172.8,236.5L195.6,235L196.5,234.9L218.4,230L223.4,224.7L219.9,214.5L218.4,210.4L214.3,204.3L213.6,194.1L210.7,183.9L203.6,173.7L200.5,163.5L198.1,153.3L198.9,143.1L203.8,132.9L214.6,122.7L215.8,112.5Z"/>
<path fill="#ff7300" d="M218.4,15.3L223.4,10.5L241.2,10.5L264.1,10.5L286.9,10.5L309.7,10.5L332.5,10.5L339.7,10.5L332.5,13.8L309.7,19.2L307.9,20.7L292.7,30.9L286.9,34L264.1,39.8L241.2,40.3L218.4,32.1L211.6,30.9L207,20.7ZM378.1,10.5L387.2,10.5L378.1,11.4L375.4,10.5ZM423.7,10.5L446.5,10.5L469.3,10.5L486.5,10.5L469.4,17.3L446.5,16.4L423.7,11.5L414.6,10.5ZM560.6,10.5L583.4,10.5L606.2,10.5L629,10.5L651.8,10.5L674.6,10.5L697.5,10.5L720.3,10.5L743.1,10.5L765.9,10.5L788.7,10.5L811.5,10.5L834.3,10.5L857.1,10.5L879.9,10.5L902.7,10.5L925.5,10.5L925.5,20.7L925.5,30.9L925.5,41.1L925.5,51.3L925.5,61.5L925.5,71.7L925.5,81.9L925.5,92.1L925.5,102.3L925.5,112.5L925.5,122.7L925.5,132.9L925.5,143.1L925.5,153.3L925.5,163.5L925.5,173.7L925.5,183.9L925.5,194.1L925.5,204.3L925.5,214.5L925.5,224.7L925.5,234.9L925.5,245.1L902.7,245.1L879.9,245.1L857.1,245.1L834.3,245.1L811.5,245.1L788.7,245.1L765.9,245.1L743.1,245.1L720.3,245.1L697.5,245.1L674.6,245.1L651.8,245.1L629,245.1L606.2,245.1L583.4,245.1L579.9,245.1L583.4,241L590.2,234.9L606.2,231.5L629,228.6L651.8,227L663.2,224.7L674.6,222.8L697.5,218.7L720.3,224.7L743.1,218.9L765.9,217.3L788.7,217.3L811.5,214.5L811.5,214.5L834.3,209.9L848,204.3L857.1,197.5L866.2,194.1L879.9,189L885.6,183.9L902.7,175.6L906.9,173.7L920.2,163.5L915.3,153.3L911.9,143.1L902.7,140L879.9,135.6L867.6,132.9L857.1,131.4L834.3,131L811.5,129.4L788.7,127.3L765.9,125.4L743.1,123.5L720.3,123.5L705.1,122.7L697.5,121.7L674.6,121.7L651.8,121.9L629,119.1L613.4,112.5L616,102.3L606.2,98.9L583.4,102L560.6,99.2L537.8,93.7L532.1,92.1L525.5,81.9L525.7,71.7L529.8,61.5L531.4,51.3L535.5,41.1L537.8,37L540.3,30.9L545.1,20.7L542.3,10.5ZM626.9,30.9L627.3,41.1L627.4,51.3L627.5,61.5L627.6,71.7L627.3,81.9L621.4,92.1L629,96.5L644.2,92.1L633.6,81.9L651.8,75.1L659.4,71.7L674.6,64.9L697.5,71.7L706.6,61.5L720.3,51.3L712.7,41.1L697.5,36L674.6,34.3L668.9,30.9L651.8,24.8L629,26.8ZM682.2,81.9L697.5,87.5L704.3,81.9L697.5,71.7ZM218.4,112.5L218.4,112.5L219,122.7L224.4,132.9L240.3,143.1L241.2,143.4L264.1,152.1L273.2,153.3L286.9,160.9L294.5,163.5L309.7,173.7L309.7,173.7L321.1,183.9L332.5,189.6L339,194.1L349.6,204.3L355.3,210.4L359.9,214.5L371.3,224.7L378.1,230.8L382.7,234.9L389.5,245.1L378.1,245.1L355.3,245.1L332.5,245.1L309.7,245.1L286.9,245.1L264.1,245.1L241.2,245.1L218.4,245.1L195.6,245.1L172.8,245.1L150,245.1L127.2,245.1L104.4,245.1L104.4,239.7L127.2,239.6L150,239.5L172.8,239.1L195.6,238L216.8,234.9L218.4,234.5L227.7,224.7L224.1,214.5L220.5,204.3L218.4,198.2L217.2,194.1L213.3,183.9L206.8,173.7L203.4,163.5L201.1,153.3L202.8,143.1L208.7,132.9L217.5,122.7L218.4,112.5Z"/>
<path fill="#ff5900" d="M218.4,18.9L227.1,10.5L241.2,10.5L264.1,10.5L286.9,10.5L309.7,10.5L332.5,10.5L336.6,10.5L332.5,12.4L309.7,14.9L302.4,20.7L288.8,30.9L286.9,31.9L264.1,37.8L241.2,38.1L221.6,30.9L218.4,25.8L214.6,20.7ZM446.5,10.5L469.3,10.5L477.9,10.5L469.4,13.9L446.5,15.3L425.4,10.5ZM560.6,10.5L583.4,10.5L606.2,10.5L629,10.5L651.8,10.5L661,10.5L651.8,20.7L629,14.6L625.4,20.7L620.7,30.9L622,41.1L622.7,51.3L623.1,61.5L623.5,71.7L622,81.9L613.8,92.1L606.2,95.5L583.4,99.9L560.6,96.2L545.4,92.1L537.8,83.9L536,81.9L533.8,71.7L533.2,61.5L534.6,51.3L537.8,45.2L541,41.1L545.4,30.9L550.6,20.7L551.5,10.5ZM697.5,15.6L701.3,10.5L720.3,10.5L743.1,10.5L765.9,10.5L788.7,10.5L811.5,10.5L834.3,10.5L857.1,10.5L879.9,10.5L902.7,10.5L925.5,10.5L925.5,20.7L925.5,30.9L925.5,41.1L925.5,51.3L925.5,61.5L925.5,71.7L925.5,81.9L925.5,92.1L925.5,102.3L925.5,112.5L925.5,122.7L925.5,132.9L925.5,143.1L925.5,153.3L925.5,159.4L922.1,153.3L921,143.1L902.7,137L879.9,133.3L878.2,132.9L857.1,129.9L834.3,129.5L811.5,128.1L788.7,125.7L765.9,123.6L756.1,122.7L743.1,120.8L720.3,116.9L697.5,115.6L674.6,115.6L651.8,117.2L629,117.5L617.3,112.5L625.8,102.3L629,100.8L651.8,98.2L674.6,95.5L697.5,94.1L699.4,92.1L711.1,81.9L720.3,71.7L720.3,71.7L720.3,61.5L730,51.3L726.5,41.1L720.3,37.3L697.5,30.9L697.5,30.9L674.6,20.7ZM674.6,70L680.3,71.7L674.6,75.8L670.8,71.7ZM651.8,80.2L661,81.9L651.8,86L647.3,81.9ZM218.4,126.8L221.4,132.9L234.9,143.1L241.2,145.5L262.2,153.3L264.1,155.8L277.7,163.5L286.9,171.7L290.1,173.7L306.4,183.9L309.7,185.4L326.8,194.1L332.5,198.2L338.2,204.3L348.8,214.5L355.3,222.7L357.6,224.7L366.7,234.9L374.9,245.1L355.3,245.1L332.5,245.1L309.7,245.1L286.9,245.1L264.1,245.1L241.2,245.1L218.4,245.1L195.6,245.1L172.8,245.1L150,245.1L127.2,245.1L104.4,245.1L104.4,242L127.2,242L150,241.9L172.8,241.6L195.6,241.1L218.4,239.1L227.7,234.9L232,224.7L228.4,214.5L224.5,204.3L220.5,194.1L218.4,190L215.9,183.9L210,173.7L206.3,163.5L204.1,153.3L206.7,143.1L213.6,132.9ZM925.5,167.6L925.5,173.7L925.5,183.9L925.5,194.1L925.5,204.3L925.5,214.5L925.5,224.7L925.5,234.9L925.5,245.1L902.7,245.1L879.9,245.1L857.1,245.1L834.3,245.1L811.5,245.1L788.7,245.1L765.9,245.1L743.1,245.1L720.3,245.1L697.5,245.1L682.2,245.1L674.6,241.7L670.1,245.1L651.8,245.1L629,245.1L606.2,245.1L592.5,245.1L603.9,234.9L606.2,234.4L629,233.3L651.8,233.8L674.6,231.5L692.9,224.7L697.5,223.8L700.7,224.7L712.7,234.9L720.3,238.3L724.8,234.9L737.4,224.7L743.1,223.2L765.9,220.7L788.7,222.8L811.5,220.6L834.3,215.6L838.1,214.5L857.1,207.2L872.3,204.3L879.9,201.7L886.2,194.1L897,183.9L902.7,181.1L919.3,173.7Z"/>
<path fill="#ff4300" d="M241.2,10.5L264.1,10.5L286.9,10.5L309.7,10.5L296.9,20.7L286.9,28.7L283.1,30.9L264.1,35.8L241.2,35.8L227.8,30.9L221.7,20.7L230.8,10.5ZM332.5,10.5L333.5,10.5L332.5,11L309.7,10.5ZM446.5,10.5L469.3,10.5L446.5,14.2L430.2,10.5ZM560.6,10.5L560.6,10.5L583.4,10.5L606.2,10.5L613.8,10.5L618.2,20.7L614.5,30.9L616.7,41.1L618,51.3L618.7,61.5L619.3,71.7L616.7,81.9L606.2,92.1L606.2,92.1L583.4,97.9L560.6,93.1L556.8,92.1L543.5,81.9L540.4,71.7L537.8,65.6L536.6,61.5L537.8,51.3L537.8,51.3L545.9,41.1L550.5,30.9L556,20.7ZM720.3,10.5L743.1,10.5L765.9,10.5L788.7,10.5L811.5,10.5L834.3,10.5L857.1,10.5L879.9,10.5L902.7,10.5L925.5,10.5L925.5,20.7L925.5,30.9L925.5,41.1L925.5,51.3L925.5,61.5L925.5,71.7L925.5,81.9L925.5,92.1L925.5,102.3L925.5,112.5L925.5,122.7L925.5,132.9L925.5,140.3L902.7,133.9L896.2,132.9L879.9,131L857.1,128.4L834.3,128L811.5,126.8L788.7,124L774.4,122.7L765.9,118.3L743.1,118.1L724.8,112.5L720.3,108.7L704,102.3L710.8,92.1L718,81.9L720.3,79.3L726.8,71.7L737.4,61.5L739.8,51.3L738.9,41.1L727.9,30.9L720.3,30.3L702.3,20.7L712.7,10.5ZM629,104.9L651.8,112.5L629,115.8L621.2,112.5ZM218.4,132.9L229.4,143.1L241.2,147.5L256.8,153.3L264.1,163.5L264.1,163.5L276.5,173.7L286.9,183.9L286.9,183.9L309.7,194.1L309.7,194.1L325.6,204.3L332.5,208.7L339,214.5L347.2,224.7L351.5,234.9L355.3,245.1L332.5,245.1L309.7,245.1L286.9,245.1L264.1,245.1L241.2,245.1L218.4,245.1L195.6,245.1L172.8,245.1L150,245.1L127.2,245.1L104.4,245.1L104.4,244.3L127.2,244.3L150,244.3L172.8,244.2L195.6,244.1L218.4,243.6L237.9,234.9L236.3,224.7L232.7,214.5L228.5,204.3L223.6,194.1L218.4,183.9L218.4,183.9L213.1,173.7L209.2,163.5L207,153.3L210.6,143.1ZM925.5,177.5L925.5,183.9L925.5,194.1L925.5,204.3L925.5,214.5L925.5,224.7L925.5,234.9L925.5,245.1L902.7,245.1L879.9,245.1L857.1,245.1L834.3,245.1L816.1,245.1L817.2,234.9L822.9,224.7L834.3,222.4L857.1,215.8L879.9,215.8L882.5,214.5L888.7,204.3L898.6,194.1L902.7,190L911.3,183.9ZM765.9,224.1L770.4,224.7L788.7,234.9L788.7,234.9L805.8,245.1L788.7,245.1L765.9,245.1L743.1,245.1L747.6,234.9L761.3,224.7Z"/>
<path fill="#ff2d00" d="M241.2,10.5L264.1,10.5L286.9,10.5L302.8,10.5L291.4,20.7L286.9,24.3L275.5,30.9L264.1,33.9L241.2,33.5L234,30.9L228.2,20.7L234.5,10.5ZM446.5,10.5L462.5,10.5L446.5,13.1L435.1,10.5ZM583.4,10.5L600.5,10.5L606.2,15.6L611,20.7L608.3,30.9L611.5,41.1L613.3,51.3L614.3,61.5L615.2,71.7L611.5,81.9L606.2,87L598.2,92.1L583.4,95.8L566.7,92.1L560.6,89L550.3,81.9L545.7,71.7L542.3,61.5L543.3,51.3L550.8,41.1L555.5,30.9L560.6,22.2L561.7,20.7L568.2,10.5ZM720.3,12.4L722.8,10.5L743.1,10.5L761.3,10.5L765.9,14.6L775,10.5L788.7,10.5L811.5,10.5L834.3,10.5L857.1,10.5L879.9,10.5L902.7,10.5L925.5,10.5L925.5,20.7L925.5,30.9L925.5,41.1L925.5,51.3L925.5,61.5L925.5,71.7L925.5,81.9L925.5,92.1L925.5,102.3L925.5,112.5L925.5,122.7L925.5,132.9L925.5,134.8L917.9,132.9L902.7,124.7L879.9,128.7L857.1,126.9L834.3,126.6L811.5,125.5L790.3,122.7L788.7,121.2L771.6,112.5L765.9,110.5L760.2,112.5L743.1,115.3L733.9,112.5L721.3,102.3L721,92.1L724.4,81.9L733.3,71.7L743.1,64.6L747.2,61.5L745.8,51.3L745.8,41.1L748.1,30.9L743.1,22.7L720.3,26.4L709.5,20.7ZM629,108.7L640.4,112.5L629,114.2L625.1,112.5ZM218.4,138L223.9,143.1L241.2,149.6L251.3,153.3L257.2,163.5L264.1,173.7L264.1,173.7L274.4,183.9L286.9,191.5L292.6,194.1L309.7,202.8L312,204.3L326.8,214.5L332.5,218.6L337.4,224.7L340.1,234.9L342.9,245.1L332.5,245.1L309.7,245.1L286.9,245.1L264.1,245.1L244.1,245.1L244,234.9L241.2,226.7L240.5,224.7L237,214.5L232.5,204.3L226.7,194.1L226,183.9L218.4,177.8L216.3,173.7L212.1,163.5L210,153.3L214.5,143.1ZM925.5,185.9L925.5,194.1L925.5,204.3L925.5,214.5L925.5,224.7L925.5,234.9L925.5,245.1L902.7,245.1L879.9,245.1L857.1,245.1L840,245.1L844.1,234.9L852.6,224.7L857.1,223.4L879.9,223.4L897.7,214.5L899.2,204.3L902.7,200.9L914.1,194.1ZM765.9,232L771.6,234.9L782.5,245.1L765.9,245.1L752.8,245.1L761.3,234.9Z"/>
<path fill="#ff1300" d="M241.2,10.5L264.1,10.5L286.9,10.5L296,10.5L286.9,19.6L285.3,20.7L267.9,30.9L264.1,31.9L241.2,31.3L240.2,30.9L234.7,20.7L238.2,10.5ZM446.5,10.5L455.7,10.5L446.5,12L440,10.5ZM583.4,10.5L592,10.5L603.4,20.7L601.4,30.9L606.2,41.1L606.2,41.1L608.6,51.3L609.9,61.5L611,71.7L606.2,81.9L606.2,81.9L590.1,92.1L583.4,93.8L575.8,92.1L560.6,84.3L557.2,81.9L550.9,71.7L549.2,61.5L548.7,51.3L555.7,41.1L560.6,30.9L560.6,30.9L568.2,20.7L575.8,10.5ZM720.3,17.9L728.8,20.7L720.3,22.6L716.7,20.7ZM743.1,10.5L754.5,10.5L743.1,17.3L730.4,10.5ZM788.7,10.5L788.7,10.5L811.5,10.5L834.3,10.5L857.1,10.5L879.9,10.5L902.7,10.5L925.5,10.5L925.5,20.7L925.5,30.9L925.5,41.1L925.5,51.3L925.5,61.5L925.5,71.7L925.5,81.9L925.5,92.1L925.5,102.3L925.5,112.5L902.7,112.5L902.7,112.5L895.1,122.7L879.9,126.5L857.1,125.4L834.3,125.1L811.5,124.2L800.1,122.7L788.7,112.5L788.7,112.5L765.9,104.3L743.1,112.5L727.2,102.3L725.6,92.1L730.6,81.9L739.8,71.7L743.1,69.3L753.4,61.5L749.8,51.3L750,41.1L755.7,30.9L765.9,20.7L765.9,20.7ZM218.4,143.1L241.2,151.6L245.8,153.3L250.4,163.5L258.8,173.7L260.8,183.9L264.1,185.6L276.7,194.1L286.9,199.9L295.4,204.3L309.7,214.5L309.7,214.5L322.7,224.7L326,234.9L329.2,245.1L309.7,245.1L286.9,245.1L264.1,245.1L248.4,245.1L248.2,234.9L245.6,224.7L241.2,214.5L241.2,214.5L236.6,204.3L229.8,194.1L233.6,183.9L220.5,173.7L218.4,171.4L215,163.5L213,153.3ZM925.5,199.2L925.5,204.3L925.5,214.5L925.5,224.7L925.5,234.9L925.5,245.1L902.7,245.1L879.9,245.1L857.1,245.1L879.9,234.9L879.9,234.9L902.7,231.5L909.3,224.7L915.8,214.5L917.9,204.3ZM765.9,241.7L770,245.1L765.9,245.1L762.6,245.1Z"/>
<path fill="#e40000" d="M241.2,20.7L242.4,10.5L264.1,10.5L286.9,10.5L289.2,10.5L286.9,12.8L276.2,20.7L264.1,28.1L241.2,20.7L241.2,20.7ZM446.5,10.5L448.8,10.5L446.5,10.9L444.9,10.5ZM583.4,10.5L583.4,10.5L594.8,20.7L594.2,30.9L597.1,41.1L600.9,51.3L604.1,61.5L606.2,66.6L606.9,71.7L606.2,73.2L598.6,81.9L583.4,91.3L565.2,81.9L560.6,78.1L556.2,71.7L556,61.5L554.2,51.3L560.6,41.1L560.6,41.1L569.7,30.9L574.7,20.7ZM743.1,10.5L747.6,10.5L743.1,13.2L738,10.5ZM811.5,10.5L834.3,10.5L857.1,10.5L879.9,10.5L902.7,10.5L925.5,10.5L925.5,15.6L902.7,15.6L879.9,15.6L857.1,15.6L845.7,20.7L845.7,30.9L857.1,41.1L879.9,30.9L879.9,30.9L902.7,27.5L925.5,26.5L925.5,30.9L925.5,41.1L925.5,51.3L925.5,61.5L925.5,71.7L925.5,81.9L925.5,92.1L925.5,102.3L925.5,106.4L902.7,104.9L885.6,112.5L886,122.7L879.9,124.2L857.1,123.9L834.3,123.7L811.5,122.9L809.9,122.7L808.2,112.5L803.9,102.3L800.1,92.1L796.3,81.9L788.7,78.5L765.9,78.5L762.6,81.9L763.5,92.1L759.4,102.3L743.1,108.7L733.2,102.3L730.1,92.1L736.8,81.9L743.1,75.1L756.8,71.7L759.7,61.5L753.8,51.3L754.1,41.1L763.3,30.9L765.9,28.3L788.7,21.7L796.3,20.7L805.8,10.5ZM806.4,41.1L805.3,51.3L811.5,57.4L816.4,51.3L821.6,41.1L811.5,37.7ZM868.5,71.7L868.5,81.9L879.9,92.1L884.1,81.9L883.4,71.7L879.9,66.6ZM218.4,148.7L237.4,153.3L241.2,156.7L243.5,163.5L253.5,173.7L241.3,183.9L262.7,194.1L264.1,197.5L273.2,204.3L286.9,214.5L286.9,214.5L298.3,224.7L304,234.9L309.7,245.1L309.7,245.1L309.7,245.1L286.9,245.1L264.1,245.1L252.7,245.1L252.3,234.9L250.9,224.7L248.9,214.5L241.2,205.8L240.6,204.3L233,194.1L241.2,183.9L226.7,173.7L218.4,164.6L218,163.5L216,153.3ZM925.5,234.9L925.5,234.9L925.5,245.1L919.8,245.1L925.5,234.9Z"/>
<path fill="#c40000" d="M264.1,10.5L281.5,10.5L267.1,20.7L264.1,22.6L258.4,20.7L249.2,10.5ZM583.4,18.1L586.3,20.7L587,30.9L588,41.1L590.4,51.3L591.7,61.5L598.6,71.7L591,81.9L583.4,86.6L574.3,81.9L562.7,71.7L568.2,61.5L560.6,54.7L559.7,51.3L560.6,49.8L575.8,41.1L578.8,30.9L581.2,20.7ZM788.7,27.8L811.5,27.5L819.1,30.9L811.5,32.6L798.8,41.1L792.8,51.3L788.7,54.7L765.9,61.5L757.8,51.3L758.3,41.1L765.9,33.6L778.9,30.9ZM834.3,42.8L857.1,49.8L861.7,51.3L857.1,53.3L844.1,61.5L834.3,65.9L824.5,61.5L826.2,51.3ZM902.7,60.4L925.5,57.3L925.5,61.5L925.5,71.7L925.5,81.9L925.5,87L902.7,86.3L896.5,81.9L894,71.7L900.2,61.5ZM743.1,81.9L756.3,92.1L749.6,102.3L743.1,104.9L739.1,102.3L734.7,92.1ZM857.1,90.1L860.4,92.1L864.7,102.3L864.7,112.5L857.1,119.3L849.5,112.5L849.5,102.3L852.6,92.1ZM241.2,166.9L248.3,173.7L241.2,179.5L233,173.7ZM241.2,187.7L254.7,194.1L241.2,200.9L236.1,194.1ZM264.1,208.4L275.5,214.5L279.9,224.7L282,234.9L284.8,245.1L264.1,245.1L256.9,245.1L256.5,234.9L256.2,224.7L256.5,214.5Z"/>
<path fill="#a80000" d="M264.1,10.5L273.5,10.5L264.1,17L256.1,10.5ZM765.9,37.7L788.7,37L791.2,41.1L788.7,44.5L779.6,51.3L765.9,56.4L761.9,51.3L762.4,41.1ZM583.4,64.9L589.5,71.7L583.4,81.9L575.1,71.7ZM743.1,87.5L749.1,92.1L743.1,99.4L739.3,92.1ZM241.2,172L243,173.7L241.2,175.2L239.2,173.7ZM241.2,191.6L246.6,194.1L241.2,196.8L239.2,194.1ZM264.1,214.5L269.3,224.7L272.2,234.9L272.4,245.1L264.1,245.1L261.2,245.1L260.6,234.9L261.4,224.7Z"/>
<path fill="#8d0000" d="M264.1,10.5L265.4,10.5L264.1,11.4L262.9,10.5Z"/>
</g>
<path d="M124.8,60.3 L149.5,71.4 L172.4,81.7 L195.2,81.7 L218.0,71.4 L240.9,81.7 L263.7,91.9 L286.5,102.2 L309.4,102.2 L332.2,112.4 L355.1,112.4 L377.9,112.4 L400.7,112.4 L423.6,122.7 L446.4,132.9 L469.2,132.9 L492.1,143.2 L514.9,143.2 L537.7,153.4 L560.6,163.7 L583.4,163.7 L606.2,163.7 L629.1,153.4 L651.9,153.4 L674.7,163.7 L697.6,163.7 L720.4,153.4 L743.2,153.4 L766.1,153.4 L788.9,153.4 L811.8,153.4 L834.6,153.4 L857.4,163.7 L880.3,153.4 L905.3,164.7" fill="none" stroke="#800080" stroke-width="5.6" stroke-linejoin="miter"/>
</g>
<rect shape-rendering="crispEdges" x="933.5" y="237.65" width="12.0" height="6.15" fill="#00008d"/>
<rect shape-rendering="crispEdges" x="933.5" y="231.80" width="12.0" height="6.15" fill="#0000a8"/>
<rect shape-rendering="crispEdges" x="933.5" y="225.95" width="12.0" height="6.15" fill="#0000c8"/>
<rect shape-rendering="crispEdges" x="933.5" y="220.10" width="12.0" height="6.15" fill="#0000e3"/>
<rect shape-rendering="crispEdges" x="933.5" y="214.25" width="12.0" height="6.15" fill="#0000ff"/>
<rect shape-rendering="crispEdges" x="933.5" y="208.40" width="12.0" height="6.15" fill="#000cff"/>
<rect shape-rendering="crispEdges" x="933.5" y="202.55" width="12.0" height="6.15" fill="#0024ff"/>
<rect shape-rendering="crispEdges" x="933.5" y="196.70" width="12.0" height="6.15" fill="#0040ff"/>
<rect shape-rendering="crispEdges" x="933.5" y="190.85" width="12.0" height="6.15" fill="#0058ff"/>
<rect shape-rendering="crispEdges" x="933.5" y="185.00" width="12.0" height="6.15" fill="#0070ff"/>
<rect shape-rendering="crispEdges" x="933.5" y="179.15" width="12.0" height="6.15" fill="#008cff"/>
<rect shape-rendering="crispEdges" x="933.5" y="173.30" width="12.0" height="6.15" fill="#00a4ff"/>
<rect shape-rendering="crispEdges" x="933.5" y="167.45" width="12.0" height="6.15" fill="#00c0ff"/>
<rect shape-rendering="crispEdges" x="933.5" y="161.60" width="12.0" height="6.15" fill="#00d8ff"/>
<rect shape-rendering="crispEdges" x="933.5" y="155.75" width="12.0" height="6.15" fill="#09f0ee"/>
<rect shape-rendering="crispEdges" x="933.5" y="149.90" width="12.0" height="6.15" fill="#1fffd7"/>
<rect shape-rendering="crispEdges" x="933.5" y="144.05" width="12.0" height="6.15" fill="#33ffc4"/>
<rect shape-rendering="crispEdges" x="933.5" y="138.20" width="12.0" height="6.15" fill="#49ffad"/>
<rect shape-rendering="crispEdges" x="933.5" y="132.35" width="12.0" height="6.15" fill="#5dff9a"/>
<rect shape-rendering="crispEdges" x="933.5" y="126.50" width="12.0" height="6.15" fill="#70ff87"/>
<rect shape-rendering="crispEdges" x="933.5" y="120.65" width="12.0" height="6.15" fill="#87ff70"/>
<rect shape-rendering="crispEdges" x="933.5" y="114.80" width="12.0" height="6.15" fill="#9aff5d"/>
<rect shape-rendering="crispEdges" x="933.5" y="108.95" width="12.0" height="6.15" fill="#b1ff46"/>
<rect shape-rendering="crispEdges" x="933.5" y="103.10" width="12.0" height="6.15" fill="#c4ff33"/>
<rect shape-rendering="crispEdges" x="933.5" y="97.25" width="12.0" height="6.15" fill="#d7ff1f"/>
<rect shape-rendering="crispEdges" x="933.5" y="91.40" width="12.0" height="6.15" fill="#eeff09"/>
<rect shape-rendering="crispEdges" x="933.5" y="85.55" width="12.0" height="6.15" fill="#ffea00"/>
<rect shape-rendering="crispEdges" x="933.5" y="79.70" width="12.0" height="6.15" fill="#ffd000"/>
<rect shape-rendering="crispEdges" x="933.5" y="73.85" width="12.0" height="6.15" fill="#ffb900"/>
<rect shape-rendering="crispEdges" x="933.5" y="68.00" width="12.0" height="6.15" fill="#ffa300"/>
<rect shape-rendering="crispEdges" x="933.5" y="62.15" width="12.0" height="6.15" fill="#ff8900"/>
<rect shape-rendering="crispEdges" x="933.5" y="56.30" width="12.0" height="6.15" fill="#ff7300"/>
<rect shape-rendering="crispEdges" x="933.5" y="50.45" width="12.0" height="6.15" fill="#ff5900"/>
<rect shape-rendering="crispEdges" x="933.5" y="44.60" width="12.0" height="6.15" fill="#ff4300"/>
<rect shape-rendering="crispEdges" x="933.5" y="38.75" width="12.0" height="6.15" fill="#ff2d00"/>
<rect shape-rendering="crispEdges" x="933.5" y="32.90" width="12.0" height="6.15" fill="#ff1300"/>
<rect shape-rendering="crispEdges" x="933.5" y="27.05" width="12.0" height="6.15" fill="#e40000"/>
<rect shape-rendering="crispEdges" x="933.5" y="21.20" width="12.0" height="6.15" fill="#c40000"/>
<rect shape-rendering="crispEdges" x="933.5" y="15.35" width="12.0" height="6.15" fill="#a80000"/>
<rect shape-rendering="crispEdges" x="933.5" y="9.50" width="12.0" height="6.15" fill="#8d0000"/>
<rect x="933.5" y="9.5" width="12.0" height="234.0" fill="none" stroke="#000" stroke-width="1"/>
<line x1="945.5" y1="243.50" x2="949.5" y2="243.50" stroke="#000" stroke-width="1"/>
<text x="959" y="251.8" font-size="23.2">0</text>
<line x1="945.5" y1="214.25" x2="949.5" y2="214.25" stroke="#000" stroke-width="1"/>
<text x="959" y="222.6" font-size="23.2">3</text>
<line x1="945.5" y1="185.00" x2="949.5" y2="185.00" stroke="#000" stroke-width="1"/>
<text x="959" y="193.3" font-size="23.2">6</text>
<line x1="945.5" y1="155.75" x2="949.5" y2="155.75" stroke="#000" stroke-width="1"/>
<text x="959" y="164.1" font-size="23.2">9</text>
<line x1="945.5" y1="126.50" x2="949.5" y2="126.50" stroke="#000" stroke-width="1"/>
<text x="959" y="134.8" font-size="23.2">12</text>
<line x1="945.5" y1="97.25" x2="949.5" y2="97.25" stroke="#000" stroke-width="1"/>
<text x="959" y="105.5" font-size="23.2">15</text>
<line x1="945.5" y1="68.00" x2="949.5" y2="68.00" stroke="#000" stroke-width="1"/>
<text x="959" y="76.3" font-size="23.2">18</text>
<line x1="945.5" y1="38.75" x2="949.5" y2="38.75" stroke="#000" stroke-width="1"/>
<text x="959" y="47.0" font-size="23.2">21</text>
<line x1="945.5" y1="9.50" x2="949.5" y2="9.50" stroke="#000" stroke-width="1"/>
<text x="959" y="17.8" font-size="23.2">24</text>
<rect x="113.5" y="9.5" width="800.0" height="234.0" fill="none" stroke="#000" stroke-width="1"/>
<rect x="113.5" y="243.5" width="800.0" height="300.5" fill="none" stroke="#000" stroke-width="1"/>
<line x1="109.5" y1="243.50" x2="113.5" y2="243.50" stroke="#000"/>
<text x="99.6" y="253.7" font-size="28.6" text-anchor="end">−20</text>
<line x1="109.5" y1="196.70" x2="113.5" y2="196.70" stroke="#000"/>
<text x="99.6" y="206.9" font-size="28.6" text-anchor="end">−15</text>
<line x1="109.5" y1="149.90" x2="113.5" y2="149.90" stroke="#000"/>
<text x="99.6" y="160.1" font-size="28.6" text-anchor="end">−10</text>
<line x1="109.5" y1="103.10" x2="113.5" y2="103.10" stroke="#000"/>
<text x="99.6" y="113.3" font-size="28.6" text-anchor="end">−5</text>
<line x1="109.5" y1="56.30" x2="113.5" y2="56.30" stroke="#000"/>
<text x="99.6" y="66.5" font-size="28.6" text-anchor="end">0</text>
<line x1="109.5" y1="9.50" x2="113.5" y2="9.50" stroke="#000"/>
<text x="99.6" y="19.7" font-size="28.6" text-anchor="end">5</text>
<line x1="109.5" y1="530.30" x2="113.5" y2="530.30" stroke="#000"/>
<text x="99.6" y="540.5" font-size="28.6" text-anchor="end">0</text>
<line x1="109.5" y1="455.90" x2="113.5" y2="455.90" stroke="#000"/>
<text x="99.6" y="466.1" font-size="28.6" text-anchor="end">5</text>
<line x1="109.5" y1="381.50" x2="113.5" y2="381.50" stroke="#000"/>
<text x="99.6" y="391.7" font-size="28.6" text-anchor="end">10</text>
<line x1="109.5" y1="307.10" x2="113.5" y2="307.10" stroke="#000"/>
<text x="99.6" y="317.3" font-size="28.6" text-anchor="end">15</text>
<line x1="113.50" y1="544.0" x2="113.50" y2="548.0" stroke="#000"/>
<text x="114.5" y="585.3" font-size="28.6" text-anchor="middle">25</text>
<line x1="202.39" y1="544.0" x2="202.39" y2="548.0" stroke="#000"/>
<text x="203.4" y="585.3" font-size="28.6" text-anchor="middle">50</text>
<line x1="291.28" y1="544.0" x2="291.28" y2="548.0" stroke="#000"/>
<text x="292.3" y="585.3" font-size="28.6" text-anchor="middle">75</text>
<line x1="380.17" y1="544.0" x2="380.17" y2="548.0" stroke="#000"/>
<text x="381.2" y="585.3" font-size="28.6" text-anchor="middle">100</text>
<line x1="469.06" y1="544.0" x2="469.06" y2="548.0" stroke="#000"/>
<text x="470.1" y="585.3" font-size="28.6" text-anchor="middle">125</text>
<line x1="557.94" y1="544.0" x2="557.94" y2="548.0" stroke="#000"/>
<text x="558.9" y="585.3" font-size="28.6" text-anchor="middle">150</text>
<line x1="646.83" y1="544.0" x2="646.83" y2="548.0" stroke="#000"/>
<text x="647.8" y="585.3" font-size="28.6" text-anchor="middle">175</text>
<line x1="735.72" y1="544.0" x2="735.72" y2="548.0" stroke="#000"/>
<text x="736.7" y="585.3" font-size="28.6" text-anchor="middle">200</text>
<line x1="824.61" y1="544.0" x2="824.61" y2="548.0" stroke="#000"/>
<text x="825.6" y="585.3" font-size="28.6" text-anchor="middle">225</text>
<line x1="913.50" y1="544.0" x2="913.50" y2="548.0" stroke="#000"/>
<text x="914.5" y="585.3" font-size="28.6" text-anchor="middle">250</text>
<text x="513.8" y="631" font-size="28.6" text-anchor="middle"><tspan font-style="italic">D</tspan> (Å)</text>
<text transform="translate(26.6,126.6) rotate(-90)" font-size="29.6" text-anchor="middle"><tspan font-style="italic">Z</tspan> (Å)</text>
<text transform="translate(26.9,393.6) rotate(-90)" font-size="29.5" text-anchor="middle">Free energy (kT)</text>
<path d="M125.9,512.2C127.4,514.1 131.2,520.9 134.7,523.8C138.2,526.7 142.8,529.8 147.0,529.6C151.2,529.4 155.7,526.9 160.0,522.8C164.3,518.7 168.9,511.9 172.9,505.1C176.9,498.3 180.8,489.6 183.8,482.2C186.8,474.8 188.5,468.6 190.9,461.0C193.3,453.4 195.7,444.9 198.0,436.4C200.3,427.9 202.6,418.7 205.0,409.9C207.4,401.1 210.1,391.4 212.5,383.5C214.9,375.6 217.1,368.5 219.3,362.6C221.6,356.7 223.8,352.0 226.0,348.3C228.2,344.6 230.5,342.3 232.8,340.6C235.1,338.9 237.3,338.2 239.6,338.2C241.9,338.2 244.3,338.9 246.6,340.4C248.9,341.9 251.2,344.1 253.4,347.0C255.6,349.9 257.6,353.8 259.9,358.1C262.1,362.4 264.5,367.5 266.9,372.9C269.2,378.3 271.6,384.9 274.0,390.5C276.4,396.1 278.6,401.7 281.0,406.4C283.4,411.1 285.8,415.9 288.1,418.7C290.5,421.5 292.5,422.7 295.1,423.3C297.7,423.9 300.9,422.7 303.9,422.3C306.8,421.9 309.9,420.6 312.8,420.8C315.8,421.0 318.4,421.7 321.6,423.3C324.8,424.9 328.6,428.1 332.1,430.4C335.6,432.7 339.2,435.2 342.7,437.1C346.2,439.0 350.1,440.6 353.3,441.6C356.5,442.6 358.5,443.4 361.9,443.2C365.3,443.0 369.6,441.9 373.5,440.2C377.4,438.5 381.8,436.0 385.6,433.2C389.4,430.4 393.0,427.0 396.3,423.4C399.6,419.8 402.4,415.9 405.4,411.3C408.4,406.8 411.4,401.2 414.5,396.1C417.6,391.0 420.9,385.4 423.7,380.8C426.5,376.2 428.8,372.1 431.3,368.7C433.8,365.3 436.4,362.2 438.9,360.2C441.4,358.2 444.0,356.7 446.5,356.5C449.0,356.3 451.6,357.6 454.1,358.9C456.6,360.2 459.2,362.5 461.7,364.1C464.2,365.7 467.0,367.8 469.3,368.7C471.6,369.6 472.9,369.7 475.4,369.6C477.9,369.6 481.7,368.8 484.5,368.4C487.3,368.0 489.8,367.4 492.1,367.5C494.4,367.6 495.7,367.8 498.2,368.7C500.7,369.6 504.2,371.7 507.3,373.2C510.4,374.7 513.5,376.4 516.5,377.8C519.5,379.2 522.6,380.5 525.6,381.5C528.6,382.5 531.2,383.1 534.7,383.6C538.2,384.1 542.9,384.4 546.9,384.5C550.9,384.6 555.0,384.4 559.0,384.5C563.0,384.6 567.7,385.0 571.2,385.1C574.8,385.2 577.2,385.3 580.3,385.1C583.3,384.9 586.5,384.2 589.5,383.9C592.5,383.5 595.8,382.9 598.6,383.0C601.4,383.1 603.7,383.4 606.2,384.5C608.7,385.6 611.5,388.1 613.8,389.4C616.1,390.7 618.0,391.7 619.9,392.4C621.8,393.1 623.6,393.7 625.4,393.6C627.2,393.6 628.6,393.5 630.5,392.1C632.4,390.7 634.9,387.8 636.6,385.4C638.3,383.0 638.6,381.3 640.6,377.9C642.6,374.5 646.0,368.9 648.7,365.0C651.4,361.1 654.1,357.2 656.8,354.2C659.5,351.2 661.9,349.2 664.9,347.1C667.9,345.0 671.5,343.0 674.7,341.3C678.0,339.6 681.2,338.3 684.4,336.7C687.6,335.1 690.9,333.4 694.1,331.5C697.4,329.6 700.6,327.2 703.9,325.0C707.1,322.8 710.6,320.1 713.6,318.5C716.6,316.9 719.0,315.9 721.7,315.3C724.4,314.7 726.8,314.5 729.8,314.7C732.8,314.9 736.4,315.9 739.6,316.3C742.9,316.7 746.1,316.9 749.3,316.9C752.5,316.8 755.2,316.6 759.0,316.0C762.8,315.4 767.1,314.2 772.0,313.0C776.9,311.8 782.9,309.9 788.3,308.5C793.7,307.1 799.1,306.0 804.5,304.6C809.9,303.2 815.3,301.5 820.7,300.0C826.1,298.5 831.5,297.2 836.9,295.8C842.3,294.4 848.3,293.0 853.2,291.3C858.1,289.6 861.8,287.7 866.1,285.4C870.4,283.1 874.8,280.4 879.1,277.3C883.4,274.2 887.9,270.3 892.1,266.6C896.3,262.9 902.4,257.2 904.5,255.3" fill="none" stroke="#000" stroke-width="6.2" stroke-linejoin="round"/>
<line x1="167" y1="470.8" x2="323.5" y2="470.8" stroke="#ff0000" stroke-width="4.6"/>
<path d="M162.4,470.8L168.2,467.6L168.2,474.0Z" fill="#ff0000" stroke="#ff0000" stroke-width="2.6" stroke-linejoin="round"/>
<path d="M328.1,470.8L322.3,467.6L322.3,474.0Z" fill="#ff0000" stroke="#ff0000" stroke-width="2.6" stroke-linejoin="round"/>
<text x="133.2" y="479.2" font-size="28.8">N</text>
<text x="249.6" y="460.3" font-size="28.8" text-anchor="middle">50 Å</text>
<text x="343" y="479.2" font-size="28.8" letter-spacing="-1.5">I1</text>
<text x="526" y="423.6" font-size="28.8" letter-spacing="-1">I2</text>
<text x="241" y="278.6" font-size="29.6" text-anchor="middle">TS</text>
<text x="240.3" y="323.4" font-size="30" text-anchor="middle" style="font-family:'Liberation Serif',serif">β</text>
<g fill="none" stroke="#000" stroke-linecap="round"><path d="M190.5,358.9C190.9,356.3 192.6,355.1 194.0,355.7C195.7,356.5 196.4,360.5 197.8,367.6" stroke-width="2.1"/><path d="M204.1,355.3L198.0,369.8" stroke-width="1.1"/></g><path d="M197.8,366.2C199.6,370 198.9,376.3 197.0,376.3C195.0,376.3 195.7,370.3 197.8,366.2Z" fill="#000"/>
<text x="281.7" y="370.6" font-size="34" text-anchor="middle" style="font-family:'Liberation Serif',serif">α</text>
</svg>
</body></html>
